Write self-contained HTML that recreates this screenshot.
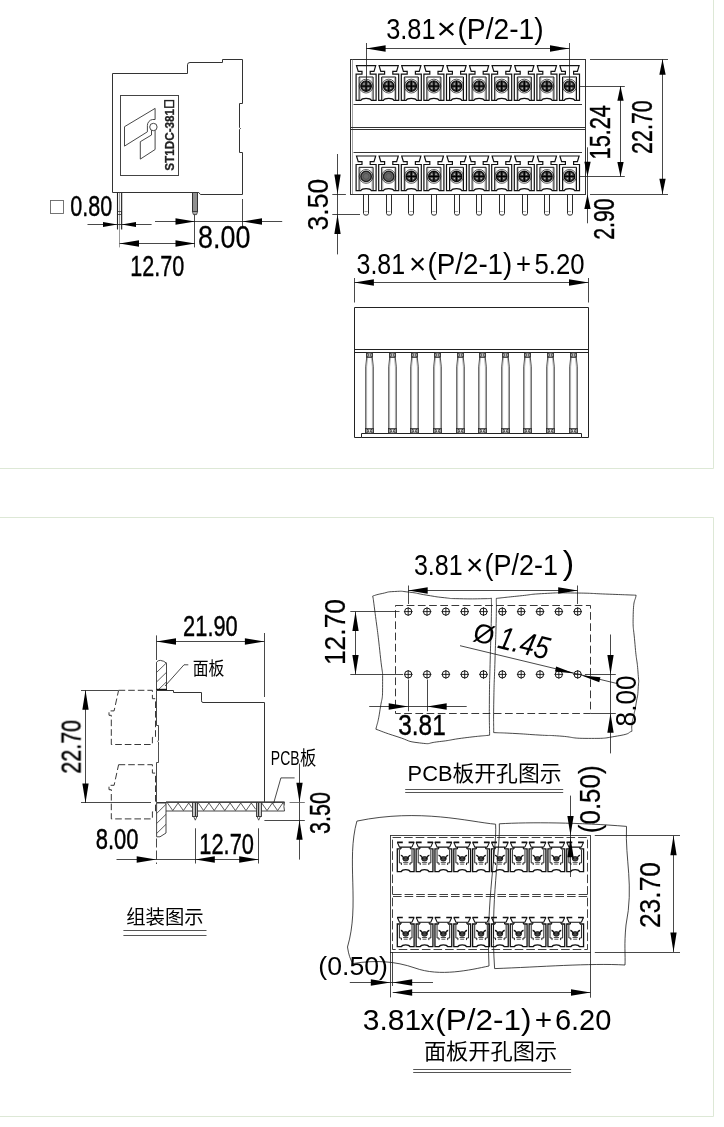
<!DOCTYPE html>
<html lang="zh">
<head>
<meta charset="utf-8">
<title>ST1DC-381 drawing</title>
<style>
html,body{margin:0;padding:0;background:#fff;}
body{width:724px;height:1127px;overflow:hidden;font-family:"Liberation Sans","Noto Sans CJK SC",sans-serif;}
svg{display:block;}
</style>
</head>
<body>
<svg width="724" height="1127" viewBox="0 0 724 1127">
<rect x="0" y="0" width="724" height="1127" fill="#ffffff"/>
<path d="M-2,-2 H713.5 V468.5 H-2" fill="none" stroke="#dde8d6" stroke-width="1"/>
<path d="M-2,1116.5 H713.5 V517.5 H-2" fill="none" stroke="#dde8d6" stroke-width="1"/>
<g style="filter:grayscale(1)">
<path d="M112.5,73.5 H187.5 V64.8 Q187.5,62.5 190,62.5 H222.5 V59.5 H242.5 V103.5 H239.5 V127.6 l1,0.9 l-1,0.9 V152.5 H242.5 V194.5 H200.4 L198.8,192.5 H112.5 Z" fill="none" stroke="#333" stroke-width="1"/>
<rect x="120.5" y="95.5" width="58" height="80" fill="none" stroke="#444" stroke-width="1"/>
<path d="M124.5,126.7 L155.1,108.4 V119.5 H152.6 A6,6 0 0 0 147.4,125.5 V131.8 L124.5,146.1 Z" fill="none" stroke="#333" stroke-width="0.9"/>
<path d="M151.5,130.2 V135 L140.3,141.7 V159.1 L155.1,149.5 V130.4" fill="none" stroke="#333" stroke-width="0.9"/>
<circle cx="153.4" cy="127" r="3.7" fill="none" stroke="#333" stroke-width="0.9"/>
<text font-family='"Liberation Sans", sans-serif' font-size="13.6" fill="#222" font-weight="bold" textLength="61.8" lengthAdjust="spacingAndGlyphs" transform="translate(173.9,170.7) rotate(-90)" stroke="#222" stroke-width="0.3">ST1DC-381</text>
<rect x="164.8" y="100.6" width="8.8" height="6.6" fill="none" stroke="#222" stroke-width="1.4"/>
<line x1="117.5" y1="192.6" x2="117.5" y2="229.5" stroke="#222" stroke-width="1.1"/>
<line x1="121.6" y1="192.6" x2="121.6" y2="229.5" stroke="#333" stroke-width="1.3"/>
<line x1="119.5" y1="192.6" x2="119.5" y2="247.4" stroke="#555" stroke-width="0.6"/>
<rect x="117.5" y="211.5" width="4" height="3" fill="none" stroke="#222" stroke-width="0.7"/>
<rect x="192.5" y="192.5" width="5" height="19" fill="#909090" stroke="#333" stroke-width="1"/>
<path d="M192.4,211.5 L193.4,214.6 H196.6 L197.6,211.5 Z" fill="#aaa" stroke="#333" stroke-width="0.8"/>
<line x1="87.5" y1="224.5" x2="151.6" y2="224.5" stroke="#1a1a1a" stroke-width="0.8"/>
<polygon points="117.4,224.5 103,227 103,222" fill="#000"/>
<polygon points="121.6,224.5 136,222 136,227" fill="#000"/>
<rect x="50.5" y="200.5" width="13" height="13" fill="none" stroke="#666" stroke-width="0.9"/>
<text font-family='"Liberation Sans", sans-serif' font-size="29.44" fill="#000" textLength="41.99" lengthAdjust="spacingAndGlyphs" x="70.16" y="216.1" stroke="#000" stroke-width="0.42">0.80</text>
<line x1="194.5" y1="214.6" x2="194.5" y2="247.4" stroke="#1a1a1a" stroke-width="0.8"/>
<line x1="119.5" y1="243.5" x2="195" y2="243.5" stroke="#1a1a1a" stroke-width="0.8"/>
<polygon points="119.5,243.5 139,240.35 139,246.65" fill="#000"/>
<polygon points="195,243.5 175.5,246.65 175.5,240.35" fill="#000"/>
<text font-family='"Liberation Sans", sans-serif' font-size="29.58" fill="#000" textLength="53.99" lengthAdjust="spacingAndGlyphs" x="130.26" y="275.7" stroke="#000" stroke-width="0.42">12.70</text>
<line x1="242.5" y1="199" x2="242.5" y2="227" stroke="#1a1a1a" stroke-width="0.8"/>
<line x1="155" y1="221.5" x2="282.2" y2="221.5" stroke="#1a1a1a" stroke-width="0.8"/>
<polygon points="195,221.5 175.5,224.65 175.5,218.35" fill="#000"/>
<polygon points="242.5,221.5 262,218.35 262,224.65" fill="#000"/>
<text font-family='"Liberation Sans", sans-serif' font-size="30.45" fill="#000" textLength="52.31" lengthAdjust="spacingAndGlyphs" x="198.04" y="247.5" stroke="#000" stroke-width="0.26">8.00</text>
<rect x="350.5" y="59.5" width="235" height="135" fill="none" stroke="#333" stroke-width="1"/>
<line x1="352.5" y1="59.3" x2="352.5" y2="194.2" stroke="#666" stroke-width="0.6"/>
<line x1="353.5" y1="104.5" x2="582" y2="104.5" stroke="#333" stroke-width="1"/>
<line x1="350.8" y1="127.5" x2="585.3" y2="127.5" stroke="#333" stroke-width="1"/>
<line x1="350.8" y1="129.5" x2="585.3" y2="129.5" stroke="#333" stroke-width="1"/>
<line x1="353.5" y1="152.5" x2="582" y2="152.5" stroke="#333" stroke-width="1"/>
<path d="M356.5,65.7 H375.7 L374,71.3 H370.2 V74.2 H376.1 V100.3 H371.3 Q370.5,98.3 366.1,98.3 Q361.7,98.3 360.9,100.3 H356.1 V74.2 H362 V71.3 H358.2 Z" fill="none" stroke="#111" stroke-width="1.2" stroke-linejoin="miter"/>
<path d="M359.1,100 V77 H373.1 V100" fill="none" stroke="#111" stroke-width="1"/>
<path d="M360.2,99.5 V78 M372,78 V99.5" fill="none" stroke="#777" stroke-width="0.5"/>
<circle cx="366.1" cy="86.1" r="6.9" fill="none" stroke="#111" stroke-width="0.7"/>
<circle cx="366.1" cy="86.1" r="5.2" fill="#484848" stroke="#111" stroke-width="1.4"/>
<path d="M360.9,86.1 H371.3 M366.1,80.9 V91.3" fill="none" stroke="#000" stroke-width="1.3"/>
<circle cx="364" cy="84" r="0.8" fill="#c8c8c8" stroke="none" stroke-width="0"/>
<circle cx="368.2" cy="84" r="0.8" fill="#c8c8c8" stroke="none" stroke-width="0"/>
<circle cx="364" cy="88.2" r="0.8" fill="#c8c8c8" stroke="none" stroke-width="0"/>
<circle cx="368.2" cy="88.2" r="0.8" fill="#c8c8c8" stroke="none" stroke-width="0"/>
<path d="M356.5,156 H375.7 L374,161.6 H370.2 V164.5 H376.1 V190.6 H371.3 Q370.5,188.6 366.1,188.6 Q361.7,188.6 360.9,190.6 H356.1 V164.5 H362 V161.6 H358.2 Z" fill="none" stroke="#111" stroke-width="1.2" stroke-linejoin="miter"/>
<path d="M359.1,190.3 V167.3 H373.1 V190.3" fill="none" stroke="#111" stroke-width="1"/>
<path d="M360.2,189.8 V168.3 M372,168.3 V189.8" fill="none" stroke="#777" stroke-width="0.5"/>
<circle cx="366.1" cy="176.4" r="6.9" fill="none" stroke="#111" stroke-width="0.7"/>
<circle cx="366.1" cy="176.4" r="5.2" fill="#6a6a6a" stroke="#222" stroke-width="1.5"/>
<circle cx="366.1" cy="176.4" r="3" fill="none" stroke="#444" stroke-width="0.6"/>
<path d="M363.5,194.2 V213.4 Q363.5,215.2 366,215.2 Q368.5,215.2 368.5,213.4 V194.2" fill="none" stroke="#2a2a2a" stroke-width="1"/>
<line x1="364.5" y1="211.5" x2="367.7" y2="211.5" stroke="#666" stroke-width="0.6"/>
<path d="M379.1,65.7 H398.3 L396.6,71.3 H392.8 V74.2 H398.7 V100.3 H393.9 Q393.1,98.3 388.7,98.3 Q384.3,98.3 383.5,100.3 H378.7 V74.2 H384.6 V71.3 H380.8 Z" fill="none" stroke="#111" stroke-width="1.2" stroke-linejoin="miter"/>
<path d="M381.7,100 V77 H395.7 V100" fill="none" stroke="#111" stroke-width="1"/>
<path d="M382.8,99.5 V78 M394.6,78 V99.5" fill="none" stroke="#777" stroke-width="0.5"/>
<circle cx="388.7" cy="86.1" r="6.9" fill="none" stroke="#111" stroke-width="0.7"/>
<circle cx="388.7" cy="86.1" r="5.2" fill="#484848" stroke="#111" stroke-width="1.4"/>
<path d="M383.5,86.1 H393.9 M388.7,80.9 V91.3" fill="none" stroke="#000" stroke-width="1.3"/>
<circle cx="386.6" cy="84" r="0.8" fill="#c8c8c8" stroke="none" stroke-width="0"/>
<circle cx="390.8" cy="84" r="0.8" fill="#c8c8c8" stroke="none" stroke-width="0"/>
<circle cx="386.6" cy="88.2" r="0.8" fill="#c8c8c8" stroke="none" stroke-width="0"/>
<circle cx="390.8" cy="88.2" r="0.8" fill="#c8c8c8" stroke="none" stroke-width="0"/>
<path d="M379.1,156 H398.3 L396.6,161.6 H392.8 V164.5 H398.7 V190.6 H393.9 Q393.1,188.6 388.7,188.6 Q384.3,188.6 383.5,190.6 H378.7 V164.5 H384.6 V161.6 H380.8 Z" fill="none" stroke="#111" stroke-width="1.2" stroke-linejoin="miter"/>
<path d="M381.7,190.3 V167.3 H395.7 V190.3" fill="none" stroke="#111" stroke-width="1"/>
<path d="M382.8,189.8 V168.3 M394.6,168.3 V189.8" fill="none" stroke="#777" stroke-width="0.5"/>
<circle cx="388.7" cy="176.4" r="6.9" fill="none" stroke="#111" stroke-width="0.7"/>
<circle cx="388.7" cy="176.4" r="5.2" fill="#6a6a6a" stroke="#222" stroke-width="1.5"/>
<circle cx="388.7" cy="176.4" r="3" fill="none" stroke="#444" stroke-width="0.6"/>
<path d="M386.5,194.2 V213.4 Q386.5,215.2 389,215.2 Q391.5,215.2 391.5,213.4 V194.2" fill="none" stroke="#2a2a2a" stroke-width="1"/>
<line x1="387.1" y1="211.5" x2="390.3" y2="211.5" stroke="#666" stroke-width="0.6"/>
<path d="M401.7,65.7 H420.9 L419.2,71.3 H415.4 V74.2 H421.3 V100.3 H416.5 Q415.7,98.3 411.3,98.3 Q406.9,98.3 406.1,100.3 H401.3 V74.2 H407.2 V71.3 H403.4 Z" fill="none" stroke="#111" stroke-width="1.2" stroke-linejoin="miter"/>
<path d="M404.3,100 V77 H418.3 V100" fill="none" stroke="#111" stroke-width="1"/>
<path d="M405.4,99.5 V78 M417.2,78 V99.5" fill="none" stroke="#777" stroke-width="0.5"/>
<circle cx="411.3" cy="86.1" r="6.9" fill="none" stroke="#111" stroke-width="0.7"/>
<circle cx="411.3" cy="86.1" r="5.2" fill="#484848" stroke="#111" stroke-width="1.4"/>
<path d="M406.1,86.1 H416.5 M411.3,80.9 V91.3" fill="none" stroke="#000" stroke-width="1.3"/>
<circle cx="409.2" cy="84" r="0.8" fill="#c8c8c8" stroke="none" stroke-width="0"/>
<circle cx="413.4" cy="84" r="0.8" fill="#c8c8c8" stroke="none" stroke-width="0"/>
<circle cx="409.2" cy="88.2" r="0.8" fill="#c8c8c8" stroke="none" stroke-width="0"/>
<circle cx="413.4" cy="88.2" r="0.8" fill="#c8c8c8" stroke="none" stroke-width="0"/>
<path d="M401.7,156 H420.9 L419.2,161.6 H415.4 V164.5 H421.3 V190.6 H416.5 Q415.7,188.6 411.3,188.6 Q406.9,188.6 406.1,190.6 H401.3 V164.5 H407.2 V161.6 H403.4 Z" fill="none" stroke="#111" stroke-width="1.2" stroke-linejoin="miter"/>
<path d="M404.3,190.3 V167.3 H418.3 V190.3" fill="none" stroke="#111" stroke-width="1"/>
<path d="M405.4,189.8 V168.3 M417.2,168.3 V189.8" fill="none" stroke="#777" stroke-width="0.5"/>
<circle cx="411.3" cy="176.4" r="6.9" fill="none" stroke="#111" stroke-width="0.7"/>
<circle cx="411.3" cy="176.4" r="5.2" fill="#484848" stroke="#111" stroke-width="1.4"/>
<path d="M406.1,176.4 H416.5 M411.3,171.2 V181.6" fill="none" stroke="#000" stroke-width="1.3"/>
<circle cx="409.2" cy="174.3" r="0.8" fill="#c8c8c8" stroke="none" stroke-width="0"/>
<circle cx="413.4" cy="174.3" r="0.8" fill="#c8c8c8" stroke="none" stroke-width="0"/>
<circle cx="409.2" cy="178.5" r="0.8" fill="#c8c8c8" stroke="none" stroke-width="0"/>
<circle cx="413.4" cy="178.5" r="0.8" fill="#c8c8c8" stroke="none" stroke-width="0"/>
<path d="M408.5,194.2 V213.4 Q408.5,215.2 411,215.2 Q413.5,215.2 413.5,213.4 V194.2" fill="none" stroke="#2a2a2a" stroke-width="1"/>
<line x1="409.7" y1="211.5" x2="412.9" y2="211.5" stroke="#666" stroke-width="0.6"/>
<path d="M424.3,65.7 H443.5 L441.8,71.3 H438 V74.2 H443.9 V100.3 H439.1 Q438.3,98.3 433.9,98.3 Q429.5,98.3 428.7,100.3 H423.9 V74.2 H429.8 V71.3 H426 Z" fill="none" stroke="#111" stroke-width="1.2" stroke-linejoin="miter"/>
<path d="M426.9,100 V77 H440.9 V100" fill="none" stroke="#111" stroke-width="1"/>
<path d="M428,99.5 V78 M439.8,78 V99.5" fill="none" stroke="#777" stroke-width="0.5"/>
<circle cx="433.9" cy="86.1" r="6.9" fill="none" stroke="#111" stroke-width="0.7"/>
<circle cx="433.9" cy="86.1" r="5.2" fill="#484848" stroke="#111" stroke-width="1.4"/>
<path d="M428.7,86.1 H439.1 M433.9,80.9 V91.3" fill="none" stroke="#000" stroke-width="1.3"/>
<circle cx="431.8" cy="84" r="0.8" fill="#c8c8c8" stroke="none" stroke-width="0"/>
<circle cx="436" cy="84" r="0.8" fill="#c8c8c8" stroke="none" stroke-width="0"/>
<circle cx="431.8" cy="88.2" r="0.8" fill="#c8c8c8" stroke="none" stroke-width="0"/>
<circle cx="436" cy="88.2" r="0.8" fill="#c8c8c8" stroke="none" stroke-width="0"/>
<path d="M424.3,156 H443.5 L441.8,161.6 H438 V164.5 H443.9 V190.6 H439.1 Q438.3,188.6 433.9,188.6 Q429.5,188.6 428.7,190.6 H423.9 V164.5 H429.8 V161.6 H426 Z" fill="none" stroke="#111" stroke-width="1.2" stroke-linejoin="miter"/>
<path d="M426.9,190.3 V167.3 H440.9 V190.3" fill="none" stroke="#111" stroke-width="1"/>
<path d="M428,189.8 V168.3 M439.8,168.3 V189.8" fill="none" stroke="#777" stroke-width="0.5"/>
<circle cx="433.9" cy="176.4" r="6.9" fill="none" stroke="#111" stroke-width="0.7"/>
<circle cx="433.9" cy="176.4" r="5.2" fill="#484848" stroke="#111" stroke-width="1.4"/>
<path d="M428.7,176.4 H439.1 M433.9,171.2 V181.6" fill="none" stroke="#000" stroke-width="1.3"/>
<circle cx="431.8" cy="174.3" r="0.8" fill="#c8c8c8" stroke="none" stroke-width="0"/>
<circle cx="436" cy="174.3" r="0.8" fill="#c8c8c8" stroke="none" stroke-width="0"/>
<circle cx="431.8" cy="178.5" r="0.8" fill="#c8c8c8" stroke="none" stroke-width="0"/>
<circle cx="436" cy="178.5" r="0.8" fill="#c8c8c8" stroke="none" stroke-width="0"/>
<path d="M431.5,194.2 V213.4 Q431.5,215.2 434,215.2 Q436.5,215.2 436.5,213.4 V194.2" fill="none" stroke="#2a2a2a" stroke-width="1"/>
<line x1="432.3" y1="211.5" x2="435.5" y2="211.5" stroke="#666" stroke-width="0.6"/>
<path d="M446.9,65.7 H466.1 L464.4,71.3 H460.6 V74.2 H466.5 V100.3 H461.7 Q460.9,98.3 456.5,98.3 Q452.1,98.3 451.3,100.3 H446.5 V74.2 H452.4 V71.3 H448.6 Z" fill="none" stroke="#111" stroke-width="1.2" stroke-linejoin="miter"/>
<path d="M449.5,100 V77 H463.5 V100" fill="none" stroke="#111" stroke-width="1"/>
<path d="M450.6,99.5 V78 M462.4,78 V99.5" fill="none" stroke="#777" stroke-width="0.5"/>
<circle cx="456.5" cy="86.1" r="6.9" fill="none" stroke="#111" stroke-width="0.7"/>
<circle cx="456.5" cy="86.1" r="5.2" fill="#484848" stroke="#111" stroke-width="1.4"/>
<path d="M451.3,86.1 H461.7 M456.5,80.9 V91.3" fill="none" stroke="#000" stroke-width="1.3"/>
<circle cx="454.4" cy="84" r="0.8" fill="#c8c8c8" stroke="none" stroke-width="0"/>
<circle cx="458.6" cy="84" r="0.8" fill="#c8c8c8" stroke="none" stroke-width="0"/>
<circle cx="454.4" cy="88.2" r="0.8" fill="#c8c8c8" stroke="none" stroke-width="0"/>
<circle cx="458.6" cy="88.2" r="0.8" fill="#c8c8c8" stroke="none" stroke-width="0"/>
<path d="M446.9,156 H466.1 L464.4,161.6 H460.6 V164.5 H466.5 V190.6 H461.7 Q460.9,188.6 456.5,188.6 Q452.1,188.6 451.3,190.6 H446.5 V164.5 H452.4 V161.6 H448.6 Z" fill="none" stroke="#111" stroke-width="1.2" stroke-linejoin="miter"/>
<path d="M449.5,190.3 V167.3 H463.5 V190.3" fill="none" stroke="#111" stroke-width="1"/>
<path d="M450.6,189.8 V168.3 M462.4,168.3 V189.8" fill="none" stroke="#777" stroke-width="0.5"/>
<circle cx="456.5" cy="176.4" r="6.9" fill="none" stroke="#111" stroke-width="0.7"/>
<circle cx="456.5" cy="176.4" r="5.2" fill="#484848" stroke="#111" stroke-width="1.4"/>
<path d="M451.3,176.4 H461.7 M456.5,171.2 V181.6" fill="none" stroke="#000" stroke-width="1.3"/>
<circle cx="454.4" cy="174.3" r="0.8" fill="#c8c8c8" stroke="none" stroke-width="0"/>
<circle cx="458.6" cy="174.3" r="0.8" fill="#c8c8c8" stroke="none" stroke-width="0"/>
<circle cx="454.4" cy="178.5" r="0.8" fill="#c8c8c8" stroke="none" stroke-width="0"/>
<circle cx="458.6" cy="178.5" r="0.8" fill="#c8c8c8" stroke="none" stroke-width="0"/>
<path d="M454.5,194.2 V213.4 Q454.5,215.2 457,215.2 Q459.5,215.2 459.5,213.4 V194.2" fill="none" stroke="#2a2a2a" stroke-width="1"/>
<line x1="454.9" y1="211.5" x2="458.1" y2="211.5" stroke="#666" stroke-width="0.6"/>
<path d="M469.5,65.7 H488.7 L487,71.3 H483.2 V74.2 H489.1 V100.3 H484.3 Q483.5,98.3 479.1,98.3 Q474.7,98.3 473.9,100.3 H469.1 V74.2 H475 V71.3 H471.2 Z" fill="none" stroke="#111" stroke-width="1.2" stroke-linejoin="miter"/>
<path d="M472.1,100 V77 H486.1 V100" fill="none" stroke="#111" stroke-width="1"/>
<path d="M473.2,99.5 V78 M485,78 V99.5" fill="none" stroke="#777" stroke-width="0.5"/>
<circle cx="479.1" cy="86.1" r="6.9" fill="none" stroke="#111" stroke-width="0.7"/>
<circle cx="479.1" cy="86.1" r="5.2" fill="#484848" stroke="#111" stroke-width="1.4"/>
<path d="M473.9,86.1 H484.3 M479.1,80.9 V91.3" fill="none" stroke="#000" stroke-width="1.3"/>
<circle cx="477" cy="84" r="0.8" fill="#c8c8c8" stroke="none" stroke-width="0"/>
<circle cx="481.2" cy="84" r="0.8" fill="#c8c8c8" stroke="none" stroke-width="0"/>
<circle cx="477" cy="88.2" r="0.8" fill="#c8c8c8" stroke="none" stroke-width="0"/>
<circle cx="481.2" cy="88.2" r="0.8" fill="#c8c8c8" stroke="none" stroke-width="0"/>
<path d="M469.5,156 H488.7 L487,161.6 H483.2 V164.5 H489.1 V190.6 H484.3 Q483.5,188.6 479.1,188.6 Q474.7,188.6 473.9,190.6 H469.1 V164.5 H475 V161.6 H471.2 Z" fill="none" stroke="#111" stroke-width="1.2" stroke-linejoin="miter"/>
<path d="M472.1,190.3 V167.3 H486.1 V190.3" fill="none" stroke="#111" stroke-width="1"/>
<path d="M473.2,189.8 V168.3 M485,168.3 V189.8" fill="none" stroke="#777" stroke-width="0.5"/>
<circle cx="479.1" cy="176.4" r="6.9" fill="none" stroke="#111" stroke-width="0.7"/>
<circle cx="479.1" cy="176.4" r="5.2" fill="#484848" stroke="#111" stroke-width="1.4"/>
<path d="M473.9,176.4 H484.3 M479.1,171.2 V181.6" fill="none" stroke="#000" stroke-width="1.3"/>
<circle cx="477" cy="174.3" r="0.8" fill="#c8c8c8" stroke="none" stroke-width="0"/>
<circle cx="481.2" cy="174.3" r="0.8" fill="#c8c8c8" stroke="none" stroke-width="0"/>
<circle cx="477" cy="178.5" r="0.8" fill="#c8c8c8" stroke="none" stroke-width="0"/>
<circle cx="481.2" cy="178.5" r="0.8" fill="#c8c8c8" stroke="none" stroke-width="0"/>
<path d="M476.5,194.2 V213.4 Q476.5,215.2 479,215.2 Q481.5,215.2 481.5,213.4 V194.2" fill="none" stroke="#2a2a2a" stroke-width="1"/>
<line x1="477.5" y1="211.5" x2="480.7" y2="211.5" stroke="#666" stroke-width="0.6"/>
<path d="M492.1,65.7 H511.3 L509.6,71.3 H505.8 V74.2 H511.7 V100.3 H506.9 Q506.1,98.3 501.7,98.3 Q497.3,98.3 496.5,100.3 H491.7 V74.2 H497.6 V71.3 H493.8 Z" fill="none" stroke="#111" stroke-width="1.2" stroke-linejoin="miter"/>
<path d="M494.7,100 V77 H508.7 V100" fill="none" stroke="#111" stroke-width="1"/>
<path d="M495.8,99.5 V78 M507.6,78 V99.5" fill="none" stroke="#777" stroke-width="0.5"/>
<circle cx="501.7" cy="86.1" r="6.9" fill="none" stroke="#111" stroke-width="0.7"/>
<circle cx="501.7" cy="86.1" r="5.2" fill="#484848" stroke="#111" stroke-width="1.4"/>
<path d="M496.5,86.1 H506.9 M501.7,80.9 V91.3" fill="none" stroke="#000" stroke-width="1.3"/>
<circle cx="499.6" cy="84" r="0.8" fill="#c8c8c8" stroke="none" stroke-width="0"/>
<circle cx="503.8" cy="84" r="0.8" fill="#c8c8c8" stroke="none" stroke-width="0"/>
<circle cx="499.6" cy="88.2" r="0.8" fill="#c8c8c8" stroke="none" stroke-width="0"/>
<circle cx="503.8" cy="88.2" r="0.8" fill="#c8c8c8" stroke="none" stroke-width="0"/>
<path d="M492.1,156 H511.3 L509.6,161.6 H505.8 V164.5 H511.7 V190.6 H506.9 Q506.1,188.6 501.7,188.6 Q497.3,188.6 496.5,190.6 H491.7 V164.5 H497.6 V161.6 H493.8 Z" fill="none" stroke="#111" stroke-width="1.2" stroke-linejoin="miter"/>
<path d="M494.7,190.3 V167.3 H508.7 V190.3" fill="none" stroke="#111" stroke-width="1"/>
<path d="M495.8,189.8 V168.3 M507.6,168.3 V189.8" fill="none" stroke="#777" stroke-width="0.5"/>
<circle cx="501.7" cy="176.4" r="6.9" fill="none" stroke="#111" stroke-width="0.7"/>
<circle cx="501.7" cy="176.4" r="5.2" fill="#484848" stroke="#111" stroke-width="1.4"/>
<path d="M496.5,176.4 H506.9 M501.7,171.2 V181.6" fill="none" stroke="#000" stroke-width="1.3"/>
<circle cx="499.6" cy="174.3" r="0.8" fill="#c8c8c8" stroke="none" stroke-width="0"/>
<circle cx="503.8" cy="174.3" r="0.8" fill="#c8c8c8" stroke="none" stroke-width="0"/>
<circle cx="499.6" cy="178.5" r="0.8" fill="#c8c8c8" stroke="none" stroke-width="0"/>
<circle cx="503.8" cy="178.5" r="0.8" fill="#c8c8c8" stroke="none" stroke-width="0"/>
<path d="M499.5,194.2 V213.4 Q499.5,215.2 502,215.2 Q504.5,215.2 504.5,213.4 V194.2" fill="none" stroke="#2a2a2a" stroke-width="1"/>
<line x1="500.1" y1="211.5" x2="503.3" y2="211.5" stroke="#666" stroke-width="0.6"/>
<path d="M514.7,65.7 H533.9 L532.2,71.3 H528.4 V74.2 H534.3 V100.3 H529.5 Q528.7,98.3 524.3,98.3 Q519.9,98.3 519.1,100.3 H514.3 V74.2 H520.2 V71.3 H516.4 Z" fill="none" stroke="#111" stroke-width="1.2" stroke-linejoin="miter"/>
<path d="M517.3,100 V77 H531.3 V100" fill="none" stroke="#111" stroke-width="1"/>
<path d="M518.4,99.5 V78 M530.2,78 V99.5" fill="none" stroke="#777" stroke-width="0.5"/>
<circle cx="524.3" cy="86.1" r="6.9" fill="none" stroke="#111" stroke-width="0.7"/>
<circle cx="524.3" cy="86.1" r="5.2" fill="#484848" stroke="#111" stroke-width="1.4"/>
<path d="M519.1,86.1 H529.5 M524.3,80.9 V91.3" fill="none" stroke="#000" stroke-width="1.3"/>
<circle cx="522.2" cy="84" r="0.8" fill="#c8c8c8" stroke="none" stroke-width="0"/>
<circle cx="526.4" cy="84" r="0.8" fill="#c8c8c8" stroke="none" stroke-width="0"/>
<circle cx="522.2" cy="88.2" r="0.8" fill="#c8c8c8" stroke="none" stroke-width="0"/>
<circle cx="526.4" cy="88.2" r="0.8" fill="#c8c8c8" stroke="none" stroke-width="0"/>
<path d="M514.7,156 H533.9 L532.2,161.6 H528.4 V164.5 H534.3 V190.6 H529.5 Q528.7,188.6 524.3,188.6 Q519.9,188.6 519.1,190.6 H514.3 V164.5 H520.2 V161.6 H516.4 Z" fill="none" stroke="#111" stroke-width="1.2" stroke-linejoin="miter"/>
<path d="M517.3,190.3 V167.3 H531.3 V190.3" fill="none" stroke="#111" stroke-width="1"/>
<path d="M518.4,189.8 V168.3 M530.2,168.3 V189.8" fill="none" stroke="#777" stroke-width="0.5"/>
<circle cx="524.3" cy="176.4" r="6.9" fill="none" stroke="#111" stroke-width="0.7"/>
<circle cx="524.3" cy="176.4" r="5.2" fill="#484848" stroke="#111" stroke-width="1.4"/>
<path d="M519.1,176.4 H529.5 M524.3,171.2 V181.6" fill="none" stroke="#000" stroke-width="1.3"/>
<circle cx="522.2" cy="174.3" r="0.8" fill="#c8c8c8" stroke="none" stroke-width="0"/>
<circle cx="526.4" cy="174.3" r="0.8" fill="#c8c8c8" stroke="none" stroke-width="0"/>
<circle cx="522.2" cy="178.5" r="0.8" fill="#c8c8c8" stroke="none" stroke-width="0"/>
<circle cx="526.4" cy="178.5" r="0.8" fill="#c8c8c8" stroke="none" stroke-width="0"/>
<path d="M522.5,194.2 V213.4 Q522.5,215.2 525,215.2 Q527.5,215.2 527.5,213.4 V194.2" fill="none" stroke="#2a2a2a" stroke-width="1"/>
<line x1="522.7" y1="211.5" x2="525.9" y2="211.5" stroke="#666" stroke-width="0.6"/>
<path d="M537.3,65.7 H556.5 L554.8,71.3 H551 V74.2 H556.9 V100.3 H552.1 Q551.3,98.3 546.9,98.3 Q542.5,98.3 541.7,100.3 H536.9 V74.2 H542.8 V71.3 H539 Z" fill="none" stroke="#111" stroke-width="1.2" stroke-linejoin="miter"/>
<path d="M539.9,100 V77 H553.9 V100" fill="none" stroke="#111" stroke-width="1"/>
<path d="M541,99.5 V78 M552.8,78 V99.5" fill="none" stroke="#777" stroke-width="0.5"/>
<circle cx="546.9" cy="86.1" r="6.9" fill="none" stroke="#111" stroke-width="0.7"/>
<circle cx="546.9" cy="86.1" r="5.2" fill="#484848" stroke="#111" stroke-width="1.4"/>
<path d="M541.7,86.1 H552.1 M546.9,80.9 V91.3" fill="none" stroke="#000" stroke-width="1.3"/>
<circle cx="544.8" cy="84" r="0.8" fill="#c8c8c8" stroke="none" stroke-width="0"/>
<circle cx="549" cy="84" r="0.8" fill="#c8c8c8" stroke="none" stroke-width="0"/>
<circle cx="544.8" cy="88.2" r="0.8" fill="#c8c8c8" stroke="none" stroke-width="0"/>
<circle cx="549" cy="88.2" r="0.8" fill="#c8c8c8" stroke="none" stroke-width="0"/>
<path d="M537.3,156 H556.5 L554.8,161.6 H551 V164.5 H556.9 V190.6 H552.1 Q551.3,188.6 546.9,188.6 Q542.5,188.6 541.7,190.6 H536.9 V164.5 H542.8 V161.6 H539 Z" fill="none" stroke="#111" stroke-width="1.2" stroke-linejoin="miter"/>
<path d="M539.9,190.3 V167.3 H553.9 V190.3" fill="none" stroke="#111" stroke-width="1"/>
<path d="M541,189.8 V168.3 M552.8,168.3 V189.8" fill="none" stroke="#777" stroke-width="0.5"/>
<circle cx="546.9" cy="176.4" r="6.9" fill="none" stroke="#111" stroke-width="0.7"/>
<circle cx="546.9" cy="176.4" r="5.2" fill="#484848" stroke="#111" stroke-width="1.4"/>
<path d="M541.7,176.4 H552.1 M546.9,171.2 V181.6" fill="none" stroke="#000" stroke-width="1.3"/>
<circle cx="544.8" cy="174.3" r="0.8" fill="#c8c8c8" stroke="none" stroke-width="0"/>
<circle cx="549" cy="174.3" r="0.8" fill="#c8c8c8" stroke="none" stroke-width="0"/>
<circle cx="544.8" cy="178.5" r="0.8" fill="#c8c8c8" stroke="none" stroke-width="0"/>
<circle cx="549" cy="178.5" r="0.8" fill="#c8c8c8" stroke="none" stroke-width="0"/>
<path d="M544.5,194.2 V213.4 Q544.5,215.2 547,215.2 Q549.5,215.2 549.5,213.4 V194.2" fill="none" stroke="#2a2a2a" stroke-width="1"/>
<line x1="545.3" y1="211.5" x2="548.5" y2="211.5" stroke="#666" stroke-width="0.6"/>
<path d="M559.9,65.7 H579.1 L577.4,71.3 H573.6 V74.2 H579.5 V100.3 H574.7 Q573.9,98.3 569.5,98.3 Q565.1,98.3 564.3,100.3 H559.5 V74.2 H565.4 V71.3 H561.6 Z" fill="none" stroke="#111" stroke-width="1.2" stroke-linejoin="miter"/>
<path d="M562.5,100 V77 H576.5 V100" fill="none" stroke="#111" stroke-width="1"/>
<path d="M563.6,99.5 V78 M575.4,78 V99.5" fill="none" stroke="#777" stroke-width="0.5"/>
<circle cx="569.5" cy="86.1" r="6.9" fill="none" stroke="#111" stroke-width="0.7"/>
<circle cx="569.5" cy="86.1" r="5.2" fill="#484848" stroke="#111" stroke-width="1.4"/>
<path d="M564.3,86.1 H574.7 M569.5,80.9 V91.3" fill="none" stroke="#000" stroke-width="1.3"/>
<circle cx="567.4" cy="84" r="0.8" fill="#c8c8c8" stroke="none" stroke-width="0"/>
<circle cx="571.6" cy="84" r="0.8" fill="#c8c8c8" stroke="none" stroke-width="0"/>
<circle cx="567.4" cy="88.2" r="0.8" fill="#c8c8c8" stroke="none" stroke-width="0"/>
<circle cx="571.6" cy="88.2" r="0.8" fill="#c8c8c8" stroke="none" stroke-width="0"/>
<path d="M559.9,156 H579.1 L577.4,161.6 H573.6 V164.5 H579.5 V190.6 H574.7 Q573.9,188.6 569.5,188.6 Q565.1,188.6 564.3,190.6 H559.5 V164.5 H565.4 V161.6 H561.6 Z" fill="none" stroke="#111" stroke-width="1.2" stroke-linejoin="miter"/>
<path d="M562.5,190.3 V167.3 H576.5 V190.3" fill="none" stroke="#111" stroke-width="1"/>
<path d="M563.6,189.8 V168.3 M575.4,168.3 V189.8" fill="none" stroke="#777" stroke-width="0.5"/>
<circle cx="569.5" cy="176.4" r="6.9" fill="none" stroke="#111" stroke-width="0.7"/>
<circle cx="569.5" cy="176.4" r="5.2" fill="#484848" stroke="#111" stroke-width="1.4"/>
<path d="M564.3,176.4 H574.7 M569.5,171.2 V181.6" fill="none" stroke="#000" stroke-width="1.3"/>
<circle cx="567.4" cy="174.3" r="0.8" fill="#c8c8c8" stroke="none" stroke-width="0"/>
<circle cx="571.6" cy="174.3" r="0.8" fill="#c8c8c8" stroke="none" stroke-width="0"/>
<circle cx="567.4" cy="178.5" r="0.8" fill="#c8c8c8" stroke="none" stroke-width="0"/>
<circle cx="571.6" cy="178.5" r="0.8" fill="#c8c8c8" stroke="none" stroke-width="0"/>
<path d="M567.5,194.2 V213.4 Q567.5,215.2 570,215.2 Q572.5,215.2 572.5,213.4 V194.2" fill="none" stroke="#2a2a2a" stroke-width="1"/>
<line x1="567.9" y1="211.5" x2="571.1" y2="211.5" stroke="#666" stroke-width="0.6"/>
<line x1="366.5" y1="43" x2="366.5" y2="86" stroke="#1a1a1a" stroke-width="0.8"/>
<line x1="569.5" y1="43" x2="569.5" y2="86" stroke="#1a1a1a" stroke-width="0.8"/>
<line x1="366.1" y1="48.5" x2="569.5" y2="48.5" stroke="#1a1a1a" stroke-width="0.8"/>
<polygon points="366.1,48.5 385.6,45.35 385.6,51.65" fill="#000"/>
<polygon points="569.5,48.5 550,51.65 550,45.35" fill="#000"/>
<text font-family='"Liberation Sans", sans-serif' font-size="28.86" fill="#000" y="39"><tspan x="386.24" textLength="49.31" lengthAdjust="spacingAndGlyphs">3.81</tspan><tspan x="436.41" textLength="19.95" lengthAdjust="spacingAndGlyphs">×</tspan><tspan x="457.45" textLength="86.2" lengthAdjust="spacingAndGlyphs">(P/2-1)</tspan></text>
<line x1="579.8" y1="86.5" x2="624.8" y2="86.5" stroke="#1a1a1a" stroke-width="0.8"/>
<line x1="579.8" y1="176.5" x2="624.8" y2="176.5" stroke="#1a1a1a" stroke-width="0.8"/>
<line x1="620.5" y1="86.2" x2="620.5" y2="176.5" stroke="#1a1a1a" stroke-width="0.8"/>
<polygon points="620.5,86.2 623.65,100.7 617.35,100.7" fill="#000"/>
<polygon points="620.5,176.5 617.35,162 623.65,162" fill="#000"/>
<text font-family='"Liberation Sans", sans-serif' font-size="28.86" fill="#000" textLength="54.39" lengthAdjust="spacingAndGlyphs" transform="translate(610.2,159.45) rotate(-90)" stroke="#000" stroke-width="0.42">15.24</text>
<line x1="590" y1="59.5" x2="668" y2="59.5" stroke="#1a1a1a" stroke-width="0.8"/>
<line x1="590" y1="194.5" x2="668" y2="194.5" stroke="#1a1a1a" stroke-width="0.8"/>
<line x1="662.5" y1="59.3" x2="662.5" y2="194.3" stroke="#1a1a1a" stroke-width="0.8"/>
<polygon points="662.5,59.3 665.65,74.8 659.35,74.8" fill="#000"/>
<polygon points="662.5,194.3 659.35,178.8 665.65,178.8" fill="#000"/>
<text font-family='"Liberation Sans", sans-serif' font-size="28.86" fill="#000" textLength="53.82" lengthAdjust="spacingAndGlyphs" transform="translate(652.4,153.98) rotate(-90)" stroke="#000" stroke-width="0.42">22.70</text>
<line x1="587.5" y1="147.3" x2="587.5" y2="223.3" stroke="#1a1a1a" stroke-width="0.8"/>
<polygon points="587.5,176.5 584.35,161.8 590.65,161.8" fill="#000"/>
<polygon points="587.5,194.3 590.65,209 584.35,209" fill="#000"/>
<text font-family='"Liberation Sans", sans-serif' font-size="29" fill="#000" textLength="41.5" lengthAdjust="spacingAndGlyphs" transform="translate(614.4,239.87) rotate(-90)" stroke="#000" stroke-width="0.42">2.90</text>
<line x1="337.5" y1="154" x2="337.5" y2="254.4" stroke="#1a1a1a" stroke-width="0.8"/>
<polygon points="337.5,194.1 334.35,174.6 340.65,174.6" fill="#000"/>
<polygon points="337.5,214.6 340.65,234.1 334.35,234.1" fill="#000"/>
<line x1="332.3" y1="194.5" x2="345.9" y2="194.5" stroke="#1a1a1a" stroke-width="0.8"/>
<line x1="332.3" y1="214.5" x2="360" y2="214.5" stroke="#1a1a1a" stroke-width="0.8"/>
<text font-family='"Liberation Sans", sans-serif' font-size="28.86" fill="#000" textLength="51.55" lengthAdjust="spacingAndGlyphs" transform="translate(327.6,230.41) rotate(-90)" stroke="#000" stroke-width="0.18">3.50</text>
<path d="M354.5,307.5 H588.5 V437.5 H581.5 V433.5 H361.5 V437.5 H354.5 Z" fill="none" stroke="#222" stroke-width="1"/>
<line x1="361.5" y1="437.5" x2="581.5" y2="437.5" stroke="#222" stroke-width="1"/>
<line x1="354.5" y1="349.5" x2="588.5" y2="349.5" stroke="#222" stroke-width="1"/>
<line x1="354.5" y1="352.5" x2="588.5" y2="352.5" stroke="#222" stroke-width="1"/>
<path d="M366.7,352.5 V357.4 L365.7,366.8 V433" fill="none" stroke="#222" stroke-width="0.8"/>
<path d="M367.6,358 L366.6,367 V428.3" fill="none" stroke="#777" stroke-width="0.5"/>
<path d="M372.3,352.5 V357.4 L373.3,366.8 V433" fill="none" stroke="#222" stroke-width="0.8"/>
<path d="M371.4,358 L372.4,367 V428.3" fill="none" stroke="#777" stroke-width="0.5"/>
<rect x="366.5" y="352.5" width="6" height="5" fill="#999" stroke="#222" stroke-width="0.7"/>
<path d="M367.1,353 L371.9,357 M371.9,353 L367.1,357" fill="none" stroke="#222" stroke-width="0.8"/>
<circle cx="369.5" cy="355" r="0.8" fill="#fff" stroke="none" stroke-width="0"/>
<rect x="365.5" y="428.5" width="8" height="5" fill="#999" stroke="#222" stroke-width="0.7"/>
<path d="M366.3,428.8 L372.7,432.8 M372.7,428.8 L366.3,432.8" fill="none" stroke="#222" stroke-width="0.8"/>
<circle cx="369.5" cy="430.8" r="0.9" fill="#fff" stroke="none" stroke-width="0"/>
<path d="M389.7,352.5 V357.4 L388.7,366.8 V433" fill="none" stroke="#222" stroke-width="0.8"/>
<path d="M390.6,358 L389.6,367 V428.3" fill="none" stroke="#777" stroke-width="0.5"/>
<path d="M395.3,352.5 V357.4 L396.3,366.8 V433" fill="none" stroke="#222" stroke-width="0.8"/>
<path d="M394.4,358 L395.4,367 V428.3" fill="none" stroke="#777" stroke-width="0.5"/>
<rect x="389.5" y="352.5" width="6" height="5" fill="#999" stroke="#222" stroke-width="0.7"/>
<path d="M390.1,353 L394.9,357 M394.9,353 L390.1,357" fill="none" stroke="#222" stroke-width="0.8"/>
<circle cx="392.5" cy="355" r="0.8" fill="#fff" stroke="none" stroke-width="0"/>
<rect x="388.5" y="428.5" width="8" height="5" fill="#999" stroke="#222" stroke-width="0.7"/>
<path d="M389.3,428.8 L395.7,432.8 M395.7,428.8 L389.3,432.8" fill="none" stroke="#222" stroke-width="0.8"/>
<circle cx="392.5" cy="430.8" r="0.9" fill="#fff" stroke="none" stroke-width="0"/>
<path d="M411.7,352.5 V357.4 L410.7,366.8 V433" fill="none" stroke="#222" stroke-width="0.8"/>
<path d="M412.6,358 L411.6,367 V428.3" fill="none" stroke="#777" stroke-width="0.5"/>
<path d="M417.3,352.5 V357.4 L418.3,366.8 V433" fill="none" stroke="#222" stroke-width="0.8"/>
<path d="M416.4,358 L417.4,367 V428.3" fill="none" stroke="#777" stroke-width="0.5"/>
<rect x="411.5" y="352.5" width="6" height="5" fill="#999" stroke="#222" stroke-width="0.7"/>
<path d="M412.1,353 L416.9,357 M416.9,353 L412.1,357" fill="none" stroke="#222" stroke-width="0.8"/>
<circle cx="414.5" cy="355" r="0.8" fill="#fff" stroke="none" stroke-width="0"/>
<rect x="410.5" y="428.5" width="8" height="5" fill="#999" stroke="#222" stroke-width="0.7"/>
<path d="M411.3,428.8 L417.7,432.8 M417.7,428.8 L411.3,432.8" fill="none" stroke="#222" stroke-width="0.8"/>
<circle cx="414.5" cy="430.8" r="0.9" fill="#fff" stroke="none" stroke-width="0"/>
<path d="M434.7,352.5 V357.4 L433.7,366.8 V433" fill="none" stroke="#222" stroke-width="0.8"/>
<path d="M435.6,358 L434.6,367 V428.3" fill="none" stroke="#777" stroke-width="0.5"/>
<path d="M440.3,352.5 V357.4 L441.3,366.8 V433" fill="none" stroke="#222" stroke-width="0.8"/>
<path d="M439.4,358 L440.4,367 V428.3" fill="none" stroke="#777" stroke-width="0.5"/>
<rect x="434.5" y="352.5" width="6" height="5" fill="#999" stroke="#222" stroke-width="0.7"/>
<path d="M435.1,353 L439.9,357 M439.9,353 L435.1,357" fill="none" stroke="#222" stroke-width="0.8"/>
<circle cx="437.5" cy="355" r="0.8" fill="#fff" stroke="none" stroke-width="0"/>
<rect x="433.5" y="428.5" width="8" height="5" fill="#999" stroke="#222" stroke-width="0.7"/>
<path d="M434.3,428.8 L440.7,432.8 M440.7,428.8 L434.3,432.8" fill="none" stroke="#222" stroke-width="0.8"/>
<circle cx="437.5" cy="430.8" r="0.9" fill="#fff" stroke="none" stroke-width="0"/>
<path d="M457.7,352.5 V357.4 L456.7,366.8 V433" fill="none" stroke="#222" stroke-width="0.8"/>
<path d="M458.6,358 L457.6,367 V428.3" fill="none" stroke="#777" stroke-width="0.5"/>
<path d="M463.3,352.5 V357.4 L464.3,366.8 V433" fill="none" stroke="#222" stroke-width="0.8"/>
<path d="M462.4,358 L463.4,367 V428.3" fill="none" stroke="#777" stroke-width="0.5"/>
<rect x="457.5" y="352.5" width="6" height="5" fill="#999" stroke="#222" stroke-width="0.7"/>
<path d="M458.1,353 L462.9,357 M462.9,353 L458.1,357" fill="none" stroke="#222" stroke-width="0.8"/>
<circle cx="460.5" cy="355" r="0.8" fill="#fff" stroke="none" stroke-width="0"/>
<rect x="456.5" y="428.5" width="8" height="5" fill="#999" stroke="#222" stroke-width="0.7"/>
<path d="M457.3,428.8 L463.7,432.8 M463.7,428.8 L457.3,432.8" fill="none" stroke="#222" stroke-width="0.8"/>
<circle cx="460.5" cy="430.8" r="0.9" fill="#fff" stroke="none" stroke-width="0"/>
<path d="M479.7,352.5 V357.4 L478.7,366.8 V433" fill="none" stroke="#222" stroke-width="0.8"/>
<path d="M480.6,358 L479.6,367 V428.3" fill="none" stroke="#777" stroke-width="0.5"/>
<path d="M485.3,352.5 V357.4 L486.3,366.8 V433" fill="none" stroke="#222" stroke-width="0.8"/>
<path d="M484.4,358 L485.4,367 V428.3" fill="none" stroke="#777" stroke-width="0.5"/>
<rect x="479.5" y="352.5" width="6" height="5" fill="#999" stroke="#222" stroke-width="0.7"/>
<path d="M480.1,353 L484.9,357 M484.9,353 L480.1,357" fill="none" stroke="#222" stroke-width="0.8"/>
<circle cx="482.5" cy="355" r="0.8" fill="#fff" stroke="none" stroke-width="0"/>
<rect x="478.5" y="428.5" width="8" height="5" fill="#999" stroke="#222" stroke-width="0.7"/>
<path d="M479.3,428.8 L485.7,432.8 M485.7,428.8 L479.3,432.8" fill="none" stroke="#222" stroke-width="0.8"/>
<circle cx="482.5" cy="430.8" r="0.9" fill="#fff" stroke="none" stroke-width="0"/>
<path d="M502.7,352.5 V357.4 L501.7,366.8 V433" fill="none" stroke="#222" stroke-width="0.8"/>
<path d="M503.6,358 L502.6,367 V428.3" fill="none" stroke="#777" stroke-width="0.5"/>
<path d="M508.3,352.5 V357.4 L509.3,366.8 V433" fill="none" stroke="#222" stroke-width="0.8"/>
<path d="M507.4,358 L508.4,367 V428.3" fill="none" stroke="#777" stroke-width="0.5"/>
<rect x="502.5" y="352.5" width="6" height="5" fill="#999" stroke="#222" stroke-width="0.7"/>
<path d="M503.1,353 L507.9,357 M507.9,353 L503.1,357" fill="none" stroke="#222" stroke-width="0.8"/>
<circle cx="505.5" cy="355" r="0.8" fill="#fff" stroke="none" stroke-width="0"/>
<rect x="501.5" y="428.5" width="8" height="5" fill="#999" stroke="#222" stroke-width="0.7"/>
<path d="M502.3,428.8 L508.7,432.8 M508.7,428.8 L502.3,432.8" fill="none" stroke="#222" stroke-width="0.8"/>
<circle cx="505.5" cy="430.8" r="0.9" fill="#fff" stroke="none" stroke-width="0"/>
<path d="M524.7,352.5 V357.4 L523.7,366.8 V433" fill="none" stroke="#222" stroke-width="0.8"/>
<path d="M525.6,358 L524.6,367 V428.3" fill="none" stroke="#777" stroke-width="0.5"/>
<path d="M530.3,352.5 V357.4 L531.3,366.8 V433" fill="none" stroke="#222" stroke-width="0.8"/>
<path d="M529.4,358 L530.4,367 V428.3" fill="none" stroke="#777" stroke-width="0.5"/>
<rect x="524.5" y="352.5" width="6" height="5" fill="#999" stroke="#222" stroke-width="0.7"/>
<path d="M525.1,353 L529.9,357 M529.9,353 L525.1,357" fill="none" stroke="#222" stroke-width="0.8"/>
<circle cx="527.5" cy="355" r="0.8" fill="#fff" stroke="none" stroke-width="0"/>
<rect x="523.5" y="428.5" width="8" height="5" fill="#999" stroke="#222" stroke-width="0.7"/>
<path d="M524.3,428.8 L530.7,432.8 M530.7,428.8 L524.3,432.8" fill="none" stroke="#222" stroke-width="0.8"/>
<circle cx="527.5" cy="430.8" r="0.9" fill="#fff" stroke="none" stroke-width="0"/>
<path d="M547.7,352.5 V357.4 L546.7,366.8 V433" fill="none" stroke="#222" stroke-width="0.8"/>
<path d="M548.6,358 L547.6,367 V428.3" fill="none" stroke="#777" stroke-width="0.5"/>
<path d="M553.3,352.5 V357.4 L554.3,366.8 V433" fill="none" stroke="#222" stroke-width="0.8"/>
<path d="M552.4,358 L553.4,367 V428.3" fill="none" stroke="#777" stroke-width="0.5"/>
<rect x="547.5" y="352.5" width="6" height="5" fill="#999" stroke="#222" stroke-width="0.7"/>
<path d="M548.1,353 L552.9,357 M552.9,353 L548.1,357" fill="none" stroke="#222" stroke-width="0.8"/>
<circle cx="550.5" cy="355" r="0.8" fill="#fff" stroke="none" stroke-width="0"/>
<rect x="546.5" y="428.5" width="8" height="5" fill="#999" stroke="#222" stroke-width="0.7"/>
<path d="M547.3,428.8 L553.7,432.8 M553.7,428.8 L547.3,432.8" fill="none" stroke="#222" stroke-width="0.8"/>
<circle cx="550.5" cy="430.8" r="0.9" fill="#fff" stroke="none" stroke-width="0"/>
<path d="M570.7,352.5 V357.4 L569.7,366.8 V433" fill="none" stroke="#222" stroke-width="0.8"/>
<path d="M571.6,358 L570.6,367 V428.3" fill="none" stroke="#777" stroke-width="0.5"/>
<path d="M576.3,352.5 V357.4 L577.3,366.8 V433" fill="none" stroke="#222" stroke-width="0.8"/>
<path d="M575.4,358 L576.4,367 V428.3" fill="none" stroke="#777" stroke-width="0.5"/>
<rect x="570.5" y="352.5" width="6" height="5" fill="#999" stroke="#222" stroke-width="0.7"/>
<path d="M571.1,353 L575.9,357 M575.9,353 L571.1,357" fill="none" stroke="#222" stroke-width="0.8"/>
<circle cx="573.5" cy="355" r="0.8" fill="#fff" stroke="none" stroke-width="0"/>
<rect x="569.5" y="428.5" width="8" height="5" fill="#999" stroke="#222" stroke-width="0.7"/>
<path d="M570.3,428.8 L576.7,432.8 M576.7,428.8 L570.3,432.8" fill="none" stroke="#222" stroke-width="0.8"/>
<circle cx="573.5" cy="430.8" r="0.9" fill="#fff" stroke="none" stroke-width="0"/>
<line x1="354.5" y1="278" x2="354.5" y2="302.5" stroke="#1a1a1a" stroke-width="0.8"/>
<line x1="588.5" y1="278" x2="588.5" y2="302.5" stroke="#1a1a1a" stroke-width="0.8"/>
<line x1="354.4" y1="282.5" x2="588.5" y2="282.5" stroke="#1a1a1a" stroke-width="0.8"/>
<polygon points="354.4,282.5 373.9,279.35 373.9,285.65" fill="#000"/>
<polygon points="588.5,282.5 569,285.65 569,279.35" fill="#000"/>
<text font-family='"Liberation Sans", sans-serif' font-size="29" fill="#000" y="274.3"><tspan x="356.55" textLength="48.58" lengthAdjust="spacingAndGlyphs">3.81</tspan><tspan x="408.94" textLength="17.19" lengthAdjust="spacingAndGlyphs">×</tspan><tspan x="427.48" textLength="84.85" lengthAdjust="spacingAndGlyphs">(P/2-1)</tspan><tspan x="515.94" textLength="15.02" lengthAdjust="spacingAndGlyphs">+</tspan><tspan x="534.47" textLength="50.04" lengthAdjust="spacingAndGlyphs">5.20</tspan></text>
<line x1="156.5" y1="635.4" x2="156.5" y2="660" stroke="#1a1a1a" stroke-width="0.8"/>
<line x1="264.5" y1="633" x2="264.5" y2="697" stroke="#1a1a1a" stroke-width="0.8"/>
<line x1="156.5" y1="641.5" x2="264.4" y2="641.5" stroke="#1a1a1a" stroke-width="0.8"/>
<polygon points="156.5,641.5 176,638.35 176,644.65" fill="#000"/>
<polygon points="264.4,641.5 244.9,644.65 244.9,638.35" fill="#000"/>
<text font-family='"Liberation Sans", sans-serif' font-size="30.01" fill="#000" textLength="54.65" lengthAdjust="spacingAndGlyphs" x="183.11" y="636.2" stroke="#000" stroke-width="0.42">21.90</text>
<path d="M156.5,689.6 V662.2 Q158,660.2 160.5,660.4 Q164,660.8 166.5,663.2 V689.6 Z" fill="none" stroke="#333" stroke-width="0.9"/>
<path d="M156.5,672.5 L166.5,662.8 M156.5,682 L166.5,672.3 M158.5,689.6 L166.5,681.8" fill="none" stroke="#333" stroke-width="0.8"/>
<line x1="156.3" y1="689.6" x2="167" y2="689.6" stroke="#111" stroke-width="1.6"/>
<path d="M165,686 L184,664.8 H188.3" fill="none" stroke="#1a1a1a" stroke-width="0.8"/>
<text font-family='"Liberation Sans", "Noto Sans CJK SC", sans-serif' font-size="18.3" fill="#000" textLength="31.6" lengthAdjust="spacingAndGlyphs" x="192.8" y="674.7">面板</text>
<path d="M156.5,690.5 H173.5 V692.5 H201.5 V700.8 Q201.5,702.5 203,702.5 H264.5 V802.5 H156.5" fill="none" stroke="#333" stroke-width="1"/>
<path d="M156.5,690.5 V725.5 H158.5 V740.5 l-0.9,0.8 l0.9,0.8 V762.5 H156.5 V802.5" fill="none" stroke="#333" stroke-width="0.9"/>
<line x1="158.5" y1="745" x2="158.5" y2="762" stroke="#555" stroke-width="0.7"/>
<path d="M118.6,690.3 H152.4 V698.7 H155.5 V737.4 H152.4 V744.5 H111.3 V715.3 H109 V710.9 H114.1 Z" fill="none" stroke="#222" stroke-width="0.9" stroke-dasharray="6.6 3"/>
<path d="M118.6,764.7 H152.4 V773.1 H155.5 V811.8 H152.4 V818.9 H111.3 V789.7 H109 V785.3 H114.1 Z" fill="none" stroke="#222" stroke-width="0.9" stroke-dasharray="6.6 3"/>
<line x1="81" y1="690.5" x2="118" y2="690.5" stroke="#1a1a1a" stroke-width="0.8"/>
<line x1="81" y1="802.5" x2="151" y2="802.5" stroke="#1a1a1a" stroke-width="0.8"/>
<line x1="85.5" y1="690.3" x2="85.5" y2="803" stroke="#1a1a1a" stroke-width="0.8"/>
<polygon points="85.5,690.3 88.65,709.8 82.35,709.8" fill="#000"/>
<polygon points="85.5,803 82.35,783.5 88.65,783.5" fill="#000"/>
<text font-family='"Liberation Sans", sans-serif' font-size="28.43" fill="#000" textLength="53.82" lengthAdjust="spacingAndGlyphs" transform="translate(80.6,773.68) rotate(-90)" stroke="#000" stroke-width="0.42">22.70</text>
<path d="M156.6,803 H166 V833 L160,836.8 H156.6 Z" fill="none" stroke="#333" stroke-width="0.9"/>
<path d="M156.6,813.5 L166,804.3 M156.6,823.5 L166,814.3 M156.6,833.5 L166,824.3" fill="none" stroke="#333" stroke-width="0.8"/>
<path d="M166,802.2 H284.5 Q283.3,806.5 284.5,811 H166" fill="none" stroke="#333" stroke-width="0.9"/>
<line x1="166" y1="802.2" x2="284.5" y2="802.2" stroke="#444" stroke-width="1.4"/>
<path d="M167.5,803 L172.8,810.6 L178.1,803 L183.4,810.6 L188.7,803 L192.3,808.16" fill="none" stroke="#333" stroke-width="0.8"/>
<path d="M198.3,803 L203.6,810.6 L208.9,803 L214.2,810.6 L219.5,803 L224.8,810.6 L230.1,803 L235.4,810.6 L240.7,803 L246,810.6 L251.3,803 L255.7,809.31" fill="none" stroke="#333" stroke-width="0.8"/>
<path d="M261.7,803 L267,810.6 L272.3,803 L277.6,810.6 L282.9,803 L284,804.58" fill="none" stroke="#333" stroke-width="0.8"/>
<rect x="192.5" y="802.5" width="5" height="14" fill="#ccc" stroke="#333" stroke-width="0.9"/>
<line x1="195.5" y1="802.5" x2="195.5" y2="816" stroke="#333" stroke-width="1.2"/>
<path d="M193.5,816.2 L195.3,820.2 L197.1,816.2" fill="none" stroke="#333" stroke-width="0.8"/>
<line x1="195.5" y1="828.3" x2="195.5" y2="863.5" stroke="#1a1a1a" stroke-width="0.8"/>
<rect x="256.5" y="802.5" width="5" height="14" fill="#ccc" stroke="#333" stroke-width="0.9"/>
<line x1="258.5" y1="802.5" x2="258.5" y2="816" stroke="#333" stroke-width="1.2"/>
<path d="M256.9,816.2 L258.7,820.2 L260.5,816.2" fill="none" stroke="#333" stroke-width="0.8"/>
<line x1="258.5" y1="828.3" x2="258.5" y2="863.5" stroke="#1a1a1a" stroke-width="0.8"/>
<line x1="156.5" y1="838.5" x2="156.5" y2="864" stroke="#1a1a1a" stroke-width="0.8" stroke-dasharray="9 3"/>
<line x1="116.5" y1="859.5" x2="258.7" y2="859.5" stroke="#1a1a1a" stroke-width="0.8"/>
<polygon points="156.2,859.5 136.7,862.65 136.7,856.35" fill="#000"/>
<polygon points="195.3,859.5 214.8,856.35 214.8,862.65" fill="#000"/>
<polygon points="258.7,859.5 239.2,862.65 239.2,856.35" fill="#000"/>
<text font-family='"Liberation Sans", sans-serif' font-size="29.44" fill="#000" textLength="42.81" lengthAdjust="spacingAndGlyphs" x="95.75" y="849.4" stroke="#000" stroke-width="0.42">8.00</text>
<text font-family='"Liberation Sans", sans-serif' font-size="30.01" fill="#000" textLength="54.72" lengthAdjust="spacingAndGlyphs" x="199.24" y="853.6" stroke="#000" stroke-width="0.42">12.70</text>
<line x1="299.5" y1="763.6" x2="299.5" y2="859.6" stroke="#1a1a1a" stroke-width="0.8"/>
<polygon points="299.5,802.2 296.35,782.7 302.65,782.7" fill="#000"/>
<polygon points="299.5,820.2 302.65,839.7 296.35,839.7" fill="#000"/>
<line x1="289.6" y1="802.5" x2="304.8" y2="802.5" stroke="#555" stroke-width="0.8"/>
<line x1="264.4" y1="820.5" x2="304.8" y2="820.5" stroke="#1a1a1a" stroke-width="0.8"/>
<text font-family='"Liberation Sans", sans-serif' font-size="28.86" fill="#000" textLength="41.86" lengthAdjust="spacingAndGlyphs" transform="translate(330,834.02) rotate(-90)" stroke="#000" stroke-width="0.42">3.50</text>
<path d="M273.6,803.4 L280.9,777.9 H294.6" fill="none" stroke="#1a1a1a" stroke-width="0.8"/>
<text font-family='"Liberation Sans", "Noto Sans CJK SC", sans-serif' fill="#000" y="765"><tspan x="270.86" font-size="20.6" textLength="28.69" lengthAdjust="spacingAndGlyphs">PCB</tspan><tspan x="300.08" font-size="18.8" textLength="16.26" lengthAdjust="spacingAndGlyphs">板</tspan></text>
<text font-family='"Liberation Sans", "Noto Sans CJK SC", sans-serif' font-size="19.3" fill="#000" textLength="77.4" lengthAdjust="spacingAndGlyphs" x="126.2" y="923.6">组装图示</text>
<line x1="123.4" y1="930.5" x2="206.5" y2="930.5" stroke="#555" stroke-width="1"/>
<line x1="123.4" y1="935.5" x2="206.5" y2="935.5" stroke="#555" stroke-width="1"/>
<circle cx="408.2" cy="611.6" r="3.6" fill="none" stroke="#111" stroke-width="1"/>
<path d="M403.9,611.6 H412.5 M408.2,607.3 V615.9" fill="none" stroke="#111" stroke-width="0.9"/>
<circle cx="408.2" cy="674.4" r="3.6" fill="none" stroke="#111" stroke-width="1"/>
<path d="M403.9,674.4 H412.5 M408.2,670.1 V678.7" fill="none" stroke="#111" stroke-width="0.9"/>
<circle cx="427.03" cy="611.6" r="3.6" fill="none" stroke="#111" stroke-width="1"/>
<path d="M422.73,611.6 H431.33 M427.03,607.3 V615.9" fill="none" stroke="#111" stroke-width="0.9"/>
<circle cx="427.03" cy="674.4" r="3.6" fill="none" stroke="#111" stroke-width="1"/>
<path d="M422.73,674.4 H431.33 M427.03,670.1 V678.7" fill="none" stroke="#111" stroke-width="0.9"/>
<circle cx="445.86" cy="611.6" r="3.6" fill="none" stroke="#111" stroke-width="1"/>
<path d="M441.56,611.6 H450.16 M445.86,607.3 V615.9" fill="none" stroke="#111" stroke-width="0.9"/>
<circle cx="445.86" cy="674.4" r="3.6" fill="none" stroke="#111" stroke-width="1"/>
<path d="M441.56,674.4 H450.16 M445.86,670.1 V678.7" fill="none" stroke="#111" stroke-width="0.9"/>
<circle cx="464.69" cy="611.6" r="3.6" fill="none" stroke="#111" stroke-width="1"/>
<path d="M460.39,611.6 H468.99 M464.69,607.3 V615.9" fill="none" stroke="#111" stroke-width="0.9"/>
<circle cx="464.69" cy="674.4" r="3.6" fill="none" stroke="#111" stroke-width="1"/>
<path d="M460.39,674.4 H468.99 M464.69,670.1 V678.7" fill="none" stroke="#111" stroke-width="0.9"/>
<circle cx="483.52" cy="611.6" r="3.6" fill="none" stroke="#111" stroke-width="1"/>
<path d="M479.22,611.6 H487.82 M483.52,607.3 V615.9" fill="none" stroke="#111" stroke-width="0.9"/>
<circle cx="483.52" cy="674.4" r="3.6" fill="none" stroke="#111" stroke-width="1"/>
<path d="M479.22,674.4 H487.82 M483.52,670.1 V678.7" fill="none" stroke="#111" stroke-width="0.9"/>
<circle cx="502.35" cy="611.6" r="3.6" fill="none" stroke="#111" stroke-width="1"/>
<path d="M498.05,611.6 H506.65 M502.35,607.3 V615.9" fill="none" stroke="#111" stroke-width="0.9"/>
<circle cx="502.35" cy="674.4" r="3.6" fill="none" stroke="#111" stroke-width="1"/>
<path d="M498.05,674.4 H506.65 M502.35,670.1 V678.7" fill="none" stroke="#111" stroke-width="0.9"/>
<circle cx="521.18" cy="611.6" r="3.6" fill="none" stroke="#111" stroke-width="1"/>
<path d="M516.88,611.6 H525.48 M521.18,607.3 V615.9" fill="none" stroke="#111" stroke-width="0.9"/>
<circle cx="521.18" cy="674.4" r="3.6" fill="none" stroke="#111" stroke-width="1"/>
<path d="M516.88,674.4 H525.48 M521.18,670.1 V678.7" fill="none" stroke="#111" stroke-width="0.9"/>
<circle cx="540.01" cy="611.6" r="3.6" fill="none" stroke="#111" stroke-width="1"/>
<path d="M535.71,611.6 H544.31 M540.01,607.3 V615.9" fill="none" stroke="#111" stroke-width="0.9"/>
<circle cx="540.01" cy="674.4" r="3.6" fill="none" stroke="#111" stroke-width="1"/>
<path d="M535.71,674.4 H544.31 M540.01,670.1 V678.7" fill="none" stroke="#111" stroke-width="0.9"/>
<circle cx="558.84" cy="611.6" r="3.6" fill="none" stroke="#111" stroke-width="1"/>
<path d="M554.54,611.6 H563.14 M558.84,607.3 V615.9" fill="none" stroke="#111" stroke-width="0.9"/>
<circle cx="558.84" cy="674.4" r="3.6" fill="none" stroke="#111" stroke-width="1"/>
<path d="M554.54,674.4 H563.14 M558.84,670.1 V678.7" fill="none" stroke="#111" stroke-width="0.9"/>
<circle cx="577.67" cy="611.6" r="3.6" fill="none" stroke="#111" stroke-width="1"/>
<path d="M573.37,611.6 H581.97 M577.67,607.3 V615.9" fill="none" stroke="#111" stroke-width="0.9"/>
<circle cx="577.67" cy="674.4" r="3.6" fill="none" stroke="#111" stroke-width="1"/>
<path d="M573.37,674.4 H581.97 M577.67,670.1 V678.7" fill="none" stroke="#111" stroke-width="0.9"/>
<rect x="395.5" y="605.5" width="195" height="108" fill="none" stroke="#222" stroke-width="0.9" stroke-dasharray="7.7 3.5"/>
<path d="M372.7,596 C375.87,595.17 374.9,595 382.2,593.5 C389.5,592 385.5,591.93 394.6,591.5 C403.7,591.07 398.73,590.97 409.5,592.2 C420.27,593.43 415.3,593.37 426.9,595.2 C438.5,597.03 433.53,596.53 444.3,597.7 C455.07,598.87 445.97,598.37 459.2,598.7 C472.43,599.03 473.27,598.87 484,598.7 C494.73,598.53 488.93,598.37 491.4,598.2" fill="none" stroke="#1a1a1a" stroke-width="0.8"/>
<path d="M372.7,596 C373.37,600.67 372.2,590.47 374.7,610 C377.2,629.53 377.57,629.8 380.2,654.6 C382.83,679.4 382.63,666.17 382.6,684.4 C382.57,702.63 382.33,694.37 380.1,709.3 C377.87,724.23 377.3,722.57 375.9,729.2" fill="none" stroke="#1a1a1a" stroke-width="0.8"/>
<path d="M375.9,729.2 C382.93,731.67 382.5,732.03 397,736.6 C411.5,741.17 405.3,741.23 419.4,742.9 C433.5,744.57 424.37,743.27 439.3,741.6 C454.23,739.93 447.43,740.03 464.2,737.9 C480.97,735.77 481.13,736.1 489.6,735.2" fill="none" stroke="#1a1a1a" stroke-width="0.8"/>
<path d="M491.4,598.2 C491.37,605.47 491.7,599.4 491.3,620 C490.9,640.6 490.83,633.33 490.2,660 C489.57,686.67 489.6,674.93 489.4,700 C489.2,725.07 489.53,723.47 489.6,735.2" fill="none" stroke="#1a1a1a" stroke-width="0.8"/>
<path d="M496.3,598.4 C504.1,597.57 503.6,597.53 519.7,595.9 C535.8,594.27 526.37,594.47 544.6,593.5 C562.83,592.53 552.87,592.77 574.4,593 C595.93,593.23 588.63,593.47 609.2,594.2 C629.77,594.93 627.13,594.87 636.1,595.2" fill="none" stroke="#1a1a1a" stroke-width="0.8"/>
<path d="M636.1,595.2 C635.13,601.67 633.57,598.2 633.2,614.6 C632.83,631 633.4,625.27 635,644.4 C636.6,663.53 636.93,657.47 638,672 C639.07,686.53 638.8,677.67 638.2,688 C637.6,698.33 637.73,693.67 636.2,703 C634.67,712.33 635,709 633.6,716 C632.2,723 632.57,718.9 632,724 C631.43,729.1 631.93,728.87 631.9,731.3" fill="none" stroke="#1a1a1a" stroke-width="0.8"/>
<path d="M631.9,731.2 C627.07,732.8 631.93,733.6 617.4,736 C602.87,738.4 607.67,738.4 588.3,738.4 C568.93,738.4 575.4,737.1 559.3,736 C543.2,734.9 554.77,735.93 540,735.1 C525.23,734.27 530.43,734.33 515,733.5 C499.57,732.67 500.8,732.9 493.7,732.6" fill="none" stroke="#1a1a1a" stroke-width="0.8"/>
<path d="M496.3,598.4 C496.27,605.6 496.63,599.47 496.2,620 C495.77,640.53 495.8,633.33 495,660 C494.2,686.67 494.23,675.8 493.8,700 C493.37,724.2 493.73,721.73 493.7,732.6" fill="none" stroke="#1a1a1a" stroke-width="0.8"/>
<line x1="408.5" y1="585.5" x2="408.5" y2="604" stroke="#1a1a1a" stroke-width="0.8"/>
<line x1="577.5" y1="585.5" x2="577.5" y2="604" stroke="#1a1a1a" stroke-width="0.8"/>
<line x1="408.2" y1="590.5" x2="577.7" y2="590.5" stroke="#1a1a1a" stroke-width="0.8"/>
<polygon points="408.2,590.5 427.7,587.35 427.7,593.65" fill="#000"/>
<polygon points="577.7,590.5 558.2,593.65 558.2,587.35" fill="#000"/>
<text font-family='"Liberation Sans", sans-serif' font-size="29.15" fill="#000" y="574.9"><tspan x="413.95" textLength="48.68" lengthAdjust="spacingAndGlyphs">3.81</tspan><tspan x="465.92" textLength="17.32" lengthAdjust="spacingAndGlyphs">×</tspan><tspan x="484.53" textLength="73.4" lengthAdjust="spacingAndGlyphs">(P/2-1</tspan><tspan x="562.69" dy="-1.3" font-size="32.5" textLength="11.44" lengthAdjust="spacingAndGlyphs">)</tspan></text>
<line x1="350.3" y1="611.5" x2="399.5" y2="611.5" stroke="#1a1a1a" stroke-width="0.8"/>
<line x1="350.3" y1="674.5" x2="403" y2="674.5" stroke="#1a1a1a" stroke-width="0.8"/>
<line x1="355.5" y1="611.6" x2="355.5" y2="674.4" stroke="#1a1a1a" stroke-width="0.8"/>
<polygon points="355.5,611.6 358.65,631.1 352.35,631.1" fill="#000"/>
<polygon points="355.5,674.4 352.35,654.9 358.65,654.9" fill="#000"/>
<text font-family='"Liberation Sans", sans-serif' font-size="29.44" fill="#000" textLength="66.15" lengthAdjust="spacingAndGlyphs" transform="translate(345.4,665.11) rotate(-90)" stroke="#000" stroke-width="0.22">12.70</text>
<line x1="408.5" y1="679.5" x2="408.5" y2="711.3" stroke="#1a1a1a" stroke-width="0.8"/>
<line x1="427.5" y1="679.5" x2="427.5" y2="711.3" stroke="#1a1a1a" stroke-width="0.8"/>
<line x1="369.2" y1="706.5" x2="466.7" y2="706.5" stroke="#1a1a1a" stroke-width="0.8"/>
<polygon points="408.2,706.5 388.7,709.65 388.7,703.35" fill="#000"/>
<polygon points="427.2,706.5 446.7,703.35 446.7,709.65" fill="#000"/>
<text font-family='"Liberation Sans", sans-serif' font-size="29.73" fill="#000" textLength="47.43" lengthAdjust="spacingAndGlyphs" x="398.27" y="734.9" stroke="#000" stroke-width="0.4">3.81</text>
<line x1="460" y1="645.7" x2="617.4" y2="683.6" stroke="#1a1a1a" stroke-width="0.8"/>
<polygon points="574.5,673.6 554.96,671.44 556.13,666.58" fill="#000"/>
<polygon points="580.9,675.2 600.44,677.36 599.27,682.22" fill="#000"/>
<text font-family='"Liberation Sans", sans-serif' fill="#000" transform="translate(471.8,640.4) rotate(13.8)"><tspan x="0" y="0" font-size="27" textLength="21" lengthAdjust="spacingAndGlyphs">Ø</tspan><tspan x="25.75" y="0.9" font-size="32" font-style="italic" textLength="51.5" lengthAdjust="spacingAndGlyphs">1.45</tspan></text>
<line x1="610.5" y1="634.5" x2="610.5" y2="753.4" stroke="#1a1a1a" stroke-width="0.8"/>
<polygon points="610.5,674.4 607.35,654.9 613.65,654.9" fill="#000"/>
<polygon points="610.5,713.3 613.65,732.8 607.35,732.8" fill="#000"/>
<line x1="584.9" y1="674.5" x2="615.8" y2="674.5" stroke="#1a1a1a" stroke-width="0.8"/>
<line x1="591" y1="713.5" x2="615.8" y2="713.5" stroke="#1a1a1a" stroke-width="0.8"/>
<text font-family='"Liberation Sans", sans-serif' font-size="28.57" fill="#000" textLength="51.16" lengthAdjust="spacingAndGlyphs" transform="translate(636.1,726.43) rotate(-90)">8.00</text>
<text font-family='"Liberation Sans", "Noto Sans CJK SC", sans-serif' font-size="21.6" fill="#000" textLength="154" lengthAdjust="spacingAndGlyphs" x="407.6" y="781.4">PCB板开孔图示</text>
<line x1="405.2" y1="789.5" x2="563.2" y2="789.5" stroke="#555" stroke-width="1"/>
<line x1="405.2" y1="792.5" x2="563.2" y2="792.5" stroke="#555" stroke-width="1"/>
<rect x="390.5" y="835.5" width="200" height="117" fill="none" stroke="#333" stroke-width="0.9"/>
<rect x="392.5" y="837.5" width="195" height="112" fill="none" stroke="#111" stroke-width="0.8" stroke-dasharray="8.6 3"/>
<line x1="393" y1="894.5" x2="587.5" y2="894.5" stroke="#111" stroke-width="0.8" stroke-dasharray="8.6 3"/>
<line x1="393" y1="896.5" x2="587.5" y2="896.5" stroke="#111" stroke-width="0.8" stroke-dasharray="8.6 3"/>
<path d="M495.6,824.2 C470,822 420,808 356.9,821.1 C346,860 360,905 347.5,947 Q349,958 353,963.5 C375,960 395,961 415,968 C440,977 470,970 489,966" fill="none" stroke="#1a1a1a" stroke-width="0.8"/>
<path d="M495.6,824.2 C497,850 486,900 489,966" fill="none" stroke="#1a1a1a" stroke-width="0.8"/>
<path d="M499.3,823.8 C530,822 580,822.5 626.5,826.4 C625,860 634,885 626,925 C624,945 625.5,955 625,965 C590,963 540,967 494.6,968.6" fill="none" stroke="#1a1a1a" stroke-width="0.8"/>
<path d="M499.3,823.8 C500.5,850 490,900 494.6,968.6" fill="none" stroke="#1a1a1a" stroke-width="0.8"/>
<path d="M397.1,842.4 H402.8 M408.6,842.4 H414.3" fill="none" stroke="#111" stroke-width="1.7"/>
<path d="M397.4,842.4 L399.5,847.1 H411.9 M414,842.4 L411.9,847.1" fill="none" stroke="#111" stroke-width="1.1"/>
<path d="M401,847.1 V848.9 M410.4,847.1 V848.9" fill="none" stroke="#111" stroke-width="1.1"/>
<path d="M401,848.9 H397.3 V871.6 H401.3 Q402.1,869.7 405.7,869.7 Q409.3,869.7 410.1,871.6 H414.1 V848.9 H410.4" fill="none" stroke="#111" stroke-width="1.3"/>
<path d="M399.4,849.6 V862.9 H401.4 V865 M412,849.6 V862.9 H410 V865" fill="none" stroke="#111" stroke-width="0.9"/>
<ellipse cx="405.7" cy="858.8" rx="2.9" ry="2.3" fill="#444" stroke="#111" stroke-width="0.8"/>
<path d="M400.8,855.4 Q402.5,855.2 404.1,859 M410.6,855.4 Q408.9,855.2 407.3,859" fill="none" stroke="#111" stroke-width="1.3"/>
<path d="M403.1,862.4 H408.3 M403.7,864.1 H407.7" fill="none" stroke="#222" stroke-width="0.8"/>
<path d="M397.1,917.5 H402.8 M408.6,917.5 H414.3" fill="none" stroke="#111" stroke-width="1.7"/>
<path d="M397.4,917.5 L399.5,922.2 H411.9 M414,917.5 L411.9,922.2" fill="none" stroke="#111" stroke-width="1.1"/>
<path d="M401,922.2 V924 M410.4,922.2 V924" fill="none" stroke="#111" stroke-width="1.1"/>
<path d="M401,924 H397.3 V946.7 H401.3 Q402.1,944.8 405.7,944.8 Q409.3,944.8 410.1,946.7 H414.1 V924 H410.4" fill="none" stroke="#111" stroke-width="1.3"/>
<path d="M399.4,924.7 V938 H401.4 V940.1 M412,924.7 V938 H410 V940.1" fill="none" stroke="#111" stroke-width="0.9"/>
<ellipse cx="405.7" cy="933.9" rx="2.9" ry="2.3" fill="#444" stroke="#111" stroke-width="0.8"/>
<path d="M400.8,930.5 Q402.5,930.3 404.1,934.1 M410.6,930.5 Q408.9,930.3 407.3,934.1" fill="none" stroke="#111" stroke-width="1.3"/>
<path d="M403.1,937.5 H408.3 M403.7,939.2 H407.7" fill="none" stroke="#222" stroke-width="0.8"/>
<path d="M415.93,842.4 H421.63 M427.43,842.4 H433.13" fill="none" stroke="#111" stroke-width="1.7"/>
<path d="M416.23,842.4 L418.33,847.1 H430.73 M432.83,842.4 L430.73,847.1" fill="none" stroke="#111" stroke-width="1.1"/>
<path d="M419.83,847.1 V848.9 M429.23,847.1 V848.9" fill="none" stroke="#111" stroke-width="1.1"/>
<path d="M419.83,848.9 H416.13 V871.6 H420.13 Q420.93,869.7 424.53,869.7 Q428.13,869.7 428.93,871.6 H432.93 V848.9 H429.23" fill="none" stroke="#111" stroke-width="1.3"/>
<path d="M418.23,849.6 V862.9 H420.23 V865 M430.83,849.6 V862.9 H428.83 V865" fill="none" stroke="#111" stroke-width="0.9"/>
<ellipse cx="424.53" cy="858.8" rx="2.9" ry="2.3" fill="#444" stroke="#111" stroke-width="0.8"/>
<path d="M419.63,855.4 Q421.33,855.2 422.93,859 M429.43,855.4 Q427.73,855.2 426.13,859" fill="none" stroke="#111" stroke-width="1.3"/>
<path d="M421.93,862.4 H427.13 M422.53,864.1 H426.53" fill="none" stroke="#222" stroke-width="0.8"/>
<path d="M415.93,917.5 H421.63 M427.43,917.5 H433.13" fill="none" stroke="#111" stroke-width="1.7"/>
<path d="M416.23,917.5 L418.33,922.2 H430.73 M432.83,917.5 L430.73,922.2" fill="none" stroke="#111" stroke-width="1.1"/>
<path d="M419.83,922.2 V924 M429.23,922.2 V924" fill="none" stroke="#111" stroke-width="1.1"/>
<path d="M419.83,924 H416.13 V946.7 H420.13 Q420.93,944.8 424.53,944.8 Q428.13,944.8 428.93,946.7 H432.93 V924 H429.23" fill="none" stroke="#111" stroke-width="1.3"/>
<path d="M418.23,924.7 V938 H420.23 V940.1 M430.83,924.7 V938 H428.83 V940.1" fill="none" stroke="#111" stroke-width="0.9"/>
<ellipse cx="424.53" cy="933.9" rx="2.9" ry="2.3" fill="#444" stroke="#111" stroke-width="0.8"/>
<path d="M419.63,930.5 Q421.33,930.3 422.93,934.1 M429.43,930.5 Q427.73,930.3 426.13,934.1" fill="none" stroke="#111" stroke-width="1.3"/>
<path d="M421.93,937.5 H427.13 M422.53,939.2 H426.53" fill="none" stroke="#222" stroke-width="0.8"/>
<path d="M434.76,842.4 H440.46 M446.26,842.4 H451.96" fill="none" stroke="#111" stroke-width="1.7"/>
<path d="M435.06,842.4 L437.16,847.1 H449.56 M451.66,842.4 L449.56,847.1" fill="none" stroke="#111" stroke-width="1.1"/>
<path d="M438.66,847.1 V848.9 M448.06,847.1 V848.9" fill="none" stroke="#111" stroke-width="1.1"/>
<path d="M438.66,848.9 H434.96 V871.6 H438.96 Q439.76,869.7 443.36,869.7 Q446.96,869.7 447.76,871.6 H451.76 V848.9 H448.06" fill="none" stroke="#111" stroke-width="1.3"/>
<path d="M437.06,849.6 V862.9 H439.06 V865 M449.66,849.6 V862.9 H447.66 V865" fill="none" stroke="#111" stroke-width="0.9"/>
<ellipse cx="443.36" cy="858.8" rx="2.9" ry="2.3" fill="#444" stroke="#111" stroke-width="0.8"/>
<path d="M438.46,855.4 Q440.16,855.2 441.76,859 M448.26,855.4 Q446.56,855.2 444.96,859" fill="none" stroke="#111" stroke-width="1.3"/>
<path d="M440.76,862.4 H445.96 M441.36,864.1 H445.36" fill="none" stroke="#222" stroke-width="0.8"/>
<path d="M434.76,917.5 H440.46 M446.26,917.5 H451.96" fill="none" stroke="#111" stroke-width="1.7"/>
<path d="M435.06,917.5 L437.16,922.2 H449.56 M451.66,917.5 L449.56,922.2" fill="none" stroke="#111" stroke-width="1.1"/>
<path d="M438.66,922.2 V924 M448.06,922.2 V924" fill="none" stroke="#111" stroke-width="1.1"/>
<path d="M438.66,924 H434.96 V946.7 H438.96 Q439.76,944.8 443.36,944.8 Q446.96,944.8 447.76,946.7 H451.76 V924 H448.06" fill="none" stroke="#111" stroke-width="1.3"/>
<path d="M437.06,924.7 V938 H439.06 V940.1 M449.66,924.7 V938 H447.66 V940.1" fill="none" stroke="#111" stroke-width="0.9"/>
<ellipse cx="443.36" cy="933.9" rx="2.9" ry="2.3" fill="#444" stroke="#111" stroke-width="0.8"/>
<path d="M438.46,930.5 Q440.16,930.3 441.76,934.1 M448.26,930.5 Q446.56,930.3 444.96,934.1" fill="none" stroke="#111" stroke-width="1.3"/>
<path d="M440.76,937.5 H445.96 M441.36,939.2 H445.36" fill="none" stroke="#222" stroke-width="0.8"/>
<path d="M453.59,842.4 H459.29 M465.09,842.4 H470.79" fill="none" stroke="#111" stroke-width="1.7"/>
<path d="M453.89,842.4 L455.99,847.1 H468.39 M470.49,842.4 L468.39,847.1" fill="none" stroke="#111" stroke-width="1.1"/>
<path d="M457.49,847.1 V848.9 M466.89,847.1 V848.9" fill="none" stroke="#111" stroke-width="1.1"/>
<path d="M457.49,848.9 H453.79 V871.6 H457.79 Q458.59,869.7 462.19,869.7 Q465.79,869.7 466.59,871.6 H470.59 V848.9 H466.89" fill="none" stroke="#111" stroke-width="1.3"/>
<path d="M455.89,849.6 V862.9 H457.89 V865 M468.49,849.6 V862.9 H466.49 V865" fill="none" stroke="#111" stroke-width="0.9"/>
<ellipse cx="462.19" cy="858.8" rx="2.9" ry="2.3" fill="#444" stroke="#111" stroke-width="0.8"/>
<path d="M457.29,855.4 Q458.99,855.2 460.59,859 M467.09,855.4 Q465.39,855.2 463.79,859" fill="none" stroke="#111" stroke-width="1.3"/>
<path d="M459.59,862.4 H464.79 M460.19,864.1 H464.19" fill="none" stroke="#222" stroke-width="0.8"/>
<path d="M453.59,917.5 H459.29 M465.09,917.5 H470.79" fill="none" stroke="#111" stroke-width="1.7"/>
<path d="M453.89,917.5 L455.99,922.2 H468.39 M470.49,917.5 L468.39,922.2" fill="none" stroke="#111" stroke-width="1.1"/>
<path d="M457.49,922.2 V924 M466.89,922.2 V924" fill="none" stroke="#111" stroke-width="1.1"/>
<path d="M457.49,924 H453.79 V946.7 H457.79 Q458.59,944.8 462.19,944.8 Q465.79,944.8 466.59,946.7 H470.59 V924 H466.89" fill="none" stroke="#111" stroke-width="1.3"/>
<path d="M455.89,924.7 V938 H457.89 V940.1 M468.49,924.7 V938 H466.49 V940.1" fill="none" stroke="#111" stroke-width="0.9"/>
<ellipse cx="462.19" cy="933.9" rx="2.9" ry="2.3" fill="#444" stroke="#111" stroke-width="0.8"/>
<path d="M457.29,930.5 Q458.99,930.3 460.59,934.1 M467.09,930.5 Q465.39,930.3 463.79,934.1" fill="none" stroke="#111" stroke-width="1.3"/>
<path d="M459.59,937.5 H464.79 M460.19,939.2 H464.19" fill="none" stroke="#222" stroke-width="0.8"/>
<path d="M472.42,842.4 H478.12 M483.92,842.4 H489.62" fill="none" stroke="#111" stroke-width="1.7"/>
<path d="M472.72,842.4 L474.82,847.1 H487.22 M489.32,842.4 L487.22,847.1" fill="none" stroke="#111" stroke-width="1.1"/>
<path d="M476.32,847.1 V848.9 M485.72,847.1 V848.9" fill="none" stroke="#111" stroke-width="1.1"/>
<path d="M476.32,848.9 H472.62 V871.6 H476.62 Q477.42,869.7 481.02,869.7 Q484.62,869.7 485.42,871.6 H489.42 V848.9 H485.72" fill="none" stroke="#111" stroke-width="1.3"/>
<path d="M474.72,849.6 V862.9 H476.72 V865 M487.32,849.6 V862.9 H485.32 V865" fill="none" stroke="#111" stroke-width="0.9"/>
<ellipse cx="481.02" cy="858.8" rx="2.9" ry="2.3" fill="#444" stroke="#111" stroke-width="0.8"/>
<path d="M476.12,855.4 Q477.82,855.2 479.42,859 M485.92,855.4 Q484.22,855.2 482.62,859" fill="none" stroke="#111" stroke-width="1.3"/>
<path d="M478.42,862.4 H483.62 M479.02,864.1 H483.02" fill="none" stroke="#222" stroke-width="0.8"/>
<path d="M472.42,917.5 H478.12 M483.92,917.5 H489.62" fill="none" stroke="#111" stroke-width="1.7"/>
<path d="M472.72,917.5 L474.82,922.2 H487.22 M489.32,917.5 L487.22,922.2" fill="none" stroke="#111" stroke-width="1.1"/>
<path d="M476.32,922.2 V924 M485.72,922.2 V924" fill="none" stroke="#111" stroke-width="1.1"/>
<path d="M476.32,924 H472.62 V946.7 H476.62 Q477.42,944.8 481.02,944.8 Q484.62,944.8 485.42,946.7 H489.42 V924 H485.72" fill="none" stroke="#111" stroke-width="1.3"/>
<path d="M474.72,924.7 V938 H476.72 V940.1 M487.32,924.7 V938 H485.32 V940.1" fill="none" stroke="#111" stroke-width="0.9"/>
<ellipse cx="481.02" cy="933.9" rx="2.9" ry="2.3" fill="#444" stroke="#111" stroke-width="0.8"/>
<path d="M476.12,930.5 Q477.82,930.3 479.42,934.1 M485.92,930.5 Q484.22,930.3 482.62,934.1" fill="none" stroke="#111" stroke-width="1.3"/>
<path d="M478.42,937.5 H483.62 M479.02,939.2 H483.02" fill="none" stroke="#222" stroke-width="0.8"/>
<path d="M491.25,842.4 H496.95 M502.75,842.4 H508.45" fill="none" stroke="#111" stroke-width="1.7"/>
<path d="M491.55,842.4 L493.65,847.1 H506.05 M508.15,842.4 L506.05,847.1" fill="none" stroke="#111" stroke-width="1.1"/>
<path d="M495.15,847.1 V848.9 M504.55,847.1 V848.9" fill="none" stroke="#111" stroke-width="1.1"/>
<path d="M495.15,848.9 H491.45 V871.6 H495.45 Q496.25,869.7 499.85,869.7 Q503.45,869.7 504.25,871.6 H508.25 V848.9 H504.55" fill="none" stroke="#111" stroke-width="1.3"/>
<path d="M493.55,849.6 V862.9 H495.55 V865 M506.15,849.6 V862.9 H504.15 V865" fill="none" stroke="#111" stroke-width="0.9"/>
<ellipse cx="499.85" cy="858.8" rx="2.9" ry="2.3" fill="#444" stroke="#111" stroke-width="0.8"/>
<path d="M494.95,855.4 Q496.65,855.2 498.25,859 M504.75,855.4 Q503.05,855.2 501.45,859" fill="none" stroke="#111" stroke-width="1.3"/>
<path d="M497.25,862.4 H502.45 M497.85,864.1 H501.85" fill="none" stroke="#222" stroke-width="0.8"/>
<path d="M491.25,917.5 H496.95 M502.75,917.5 H508.45" fill="none" stroke="#111" stroke-width="1.7"/>
<path d="M491.55,917.5 L493.65,922.2 H506.05 M508.15,917.5 L506.05,922.2" fill="none" stroke="#111" stroke-width="1.1"/>
<path d="M495.15,922.2 V924 M504.55,922.2 V924" fill="none" stroke="#111" stroke-width="1.1"/>
<path d="M495.15,924 H491.45 V946.7 H495.45 Q496.25,944.8 499.85,944.8 Q503.45,944.8 504.25,946.7 H508.25 V924 H504.55" fill="none" stroke="#111" stroke-width="1.3"/>
<path d="M493.55,924.7 V938 H495.55 V940.1 M506.15,924.7 V938 H504.15 V940.1" fill="none" stroke="#111" stroke-width="0.9"/>
<ellipse cx="499.85" cy="933.9" rx="2.9" ry="2.3" fill="#444" stroke="#111" stroke-width="0.8"/>
<path d="M494.95,930.5 Q496.65,930.3 498.25,934.1 M504.75,930.5 Q503.05,930.3 501.45,934.1" fill="none" stroke="#111" stroke-width="1.3"/>
<path d="M497.25,937.5 H502.45 M497.85,939.2 H501.85" fill="none" stroke="#222" stroke-width="0.8"/>
<path d="M510.08,842.4 H515.78 M521.58,842.4 H527.28" fill="none" stroke="#111" stroke-width="1.7"/>
<path d="M510.38,842.4 L512.48,847.1 H524.88 M526.98,842.4 L524.88,847.1" fill="none" stroke="#111" stroke-width="1.1"/>
<path d="M513.98,847.1 V848.9 M523.38,847.1 V848.9" fill="none" stroke="#111" stroke-width="1.1"/>
<path d="M513.98,848.9 H510.28 V871.6 H514.28 Q515.08,869.7 518.68,869.7 Q522.28,869.7 523.08,871.6 H527.08 V848.9 H523.38" fill="none" stroke="#111" stroke-width="1.3"/>
<path d="M512.38,849.6 V862.9 H514.38 V865 M524.98,849.6 V862.9 H522.98 V865" fill="none" stroke="#111" stroke-width="0.9"/>
<ellipse cx="518.68" cy="858.8" rx="2.9" ry="2.3" fill="#444" stroke="#111" stroke-width="0.8"/>
<path d="M513.78,855.4 Q515.48,855.2 517.08,859 M523.58,855.4 Q521.88,855.2 520.28,859" fill="none" stroke="#111" stroke-width="1.3"/>
<path d="M516.08,862.4 H521.28 M516.68,864.1 H520.68" fill="none" stroke="#222" stroke-width="0.8"/>
<path d="M510.08,917.5 H515.78 M521.58,917.5 H527.28" fill="none" stroke="#111" stroke-width="1.7"/>
<path d="M510.38,917.5 L512.48,922.2 H524.88 M526.98,917.5 L524.88,922.2" fill="none" stroke="#111" stroke-width="1.1"/>
<path d="M513.98,922.2 V924 M523.38,922.2 V924" fill="none" stroke="#111" stroke-width="1.1"/>
<path d="M513.98,924 H510.28 V946.7 H514.28 Q515.08,944.8 518.68,944.8 Q522.28,944.8 523.08,946.7 H527.08 V924 H523.38" fill="none" stroke="#111" stroke-width="1.3"/>
<path d="M512.38,924.7 V938 H514.38 V940.1 M524.98,924.7 V938 H522.98 V940.1" fill="none" stroke="#111" stroke-width="0.9"/>
<ellipse cx="518.68" cy="933.9" rx="2.9" ry="2.3" fill="#444" stroke="#111" stroke-width="0.8"/>
<path d="M513.78,930.5 Q515.48,930.3 517.08,934.1 M523.58,930.5 Q521.88,930.3 520.28,934.1" fill="none" stroke="#111" stroke-width="1.3"/>
<path d="M516.08,937.5 H521.28 M516.68,939.2 H520.68" fill="none" stroke="#222" stroke-width="0.8"/>
<path d="M528.91,842.4 H534.61 M540.41,842.4 H546.11" fill="none" stroke="#111" stroke-width="1.7"/>
<path d="M529.21,842.4 L531.31,847.1 H543.71 M545.81,842.4 L543.71,847.1" fill="none" stroke="#111" stroke-width="1.1"/>
<path d="M532.81,847.1 V848.9 M542.21,847.1 V848.9" fill="none" stroke="#111" stroke-width="1.1"/>
<path d="M532.81,848.9 H529.11 V871.6 H533.11 Q533.91,869.7 537.51,869.7 Q541.11,869.7 541.91,871.6 H545.91 V848.9 H542.21" fill="none" stroke="#111" stroke-width="1.3"/>
<path d="M531.21,849.6 V862.9 H533.21 V865 M543.81,849.6 V862.9 H541.81 V865" fill="none" stroke="#111" stroke-width="0.9"/>
<ellipse cx="537.51" cy="858.8" rx="2.9" ry="2.3" fill="#444" stroke="#111" stroke-width="0.8"/>
<path d="M532.61,855.4 Q534.31,855.2 535.91,859 M542.41,855.4 Q540.71,855.2 539.11,859" fill="none" stroke="#111" stroke-width="1.3"/>
<path d="M534.91,862.4 H540.11 M535.51,864.1 H539.51" fill="none" stroke="#222" stroke-width="0.8"/>
<path d="M528.91,917.5 H534.61 M540.41,917.5 H546.11" fill="none" stroke="#111" stroke-width="1.7"/>
<path d="M529.21,917.5 L531.31,922.2 H543.71 M545.81,917.5 L543.71,922.2" fill="none" stroke="#111" stroke-width="1.1"/>
<path d="M532.81,922.2 V924 M542.21,922.2 V924" fill="none" stroke="#111" stroke-width="1.1"/>
<path d="M532.81,924 H529.11 V946.7 H533.11 Q533.91,944.8 537.51,944.8 Q541.11,944.8 541.91,946.7 H545.91 V924 H542.21" fill="none" stroke="#111" stroke-width="1.3"/>
<path d="M531.21,924.7 V938 H533.21 V940.1 M543.81,924.7 V938 H541.81 V940.1" fill="none" stroke="#111" stroke-width="0.9"/>
<ellipse cx="537.51" cy="933.9" rx="2.9" ry="2.3" fill="#444" stroke="#111" stroke-width="0.8"/>
<path d="M532.61,930.5 Q534.31,930.3 535.91,934.1 M542.41,930.5 Q540.71,930.3 539.11,934.1" fill="none" stroke="#111" stroke-width="1.3"/>
<path d="M534.91,937.5 H540.11 M535.51,939.2 H539.51" fill="none" stroke="#222" stroke-width="0.8"/>
<path d="M547.74,842.4 H553.44 M559.24,842.4 H564.94" fill="none" stroke="#111" stroke-width="1.7"/>
<path d="M548.04,842.4 L550.14,847.1 H562.54 M564.64,842.4 L562.54,847.1" fill="none" stroke="#111" stroke-width="1.1"/>
<path d="M551.64,847.1 V848.9 M561.04,847.1 V848.9" fill="none" stroke="#111" stroke-width="1.1"/>
<path d="M551.64,848.9 H547.94 V871.6 H551.94 Q552.74,869.7 556.34,869.7 Q559.94,869.7 560.74,871.6 H564.74 V848.9 H561.04" fill="none" stroke="#111" stroke-width="1.3"/>
<path d="M550.04,849.6 V862.9 H552.04 V865 M562.64,849.6 V862.9 H560.64 V865" fill="none" stroke="#111" stroke-width="0.9"/>
<ellipse cx="556.34" cy="858.8" rx="2.9" ry="2.3" fill="#444" stroke="#111" stroke-width="0.8"/>
<path d="M551.44,855.4 Q553.14,855.2 554.74,859 M561.24,855.4 Q559.54,855.2 557.94,859" fill="none" stroke="#111" stroke-width="1.3"/>
<path d="M553.74,862.4 H558.94 M554.34,864.1 H558.34" fill="none" stroke="#222" stroke-width="0.8"/>
<path d="M547.74,917.5 H553.44 M559.24,917.5 H564.94" fill="none" stroke="#111" stroke-width="1.7"/>
<path d="M548.04,917.5 L550.14,922.2 H562.54 M564.64,917.5 L562.54,922.2" fill="none" stroke="#111" stroke-width="1.1"/>
<path d="M551.64,922.2 V924 M561.04,922.2 V924" fill="none" stroke="#111" stroke-width="1.1"/>
<path d="M551.64,924 H547.94 V946.7 H551.94 Q552.74,944.8 556.34,944.8 Q559.94,944.8 560.74,946.7 H564.74 V924 H561.04" fill="none" stroke="#111" stroke-width="1.3"/>
<path d="M550.04,924.7 V938 H552.04 V940.1 M562.64,924.7 V938 H560.64 V940.1" fill="none" stroke="#111" stroke-width="0.9"/>
<ellipse cx="556.34" cy="933.9" rx="2.9" ry="2.3" fill="#444" stroke="#111" stroke-width="0.8"/>
<path d="M551.44,930.5 Q553.14,930.3 554.74,934.1 M561.24,930.5 Q559.54,930.3 557.94,934.1" fill="none" stroke="#111" stroke-width="1.3"/>
<path d="M553.74,937.5 H558.94 M554.34,939.2 H558.34" fill="none" stroke="#222" stroke-width="0.8"/>
<path d="M566.57,842.4 H572.27 M578.07,842.4 H583.77" fill="none" stroke="#111" stroke-width="1.7"/>
<path d="M566.87,842.4 L568.97,847.1 H581.37 M583.47,842.4 L581.37,847.1" fill="none" stroke="#111" stroke-width="1.1"/>
<path d="M570.47,847.1 V848.9 M579.87,847.1 V848.9" fill="none" stroke="#111" stroke-width="1.1"/>
<path d="M570.47,848.9 H566.77 V871.6 H570.77 Q571.57,869.7 575.17,869.7 Q578.77,869.7 579.57,871.6 H583.57 V848.9 H579.87" fill="none" stroke="#111" stroke-width="1.3"/>
<path d="M568.87,849.6 V862.9 H570.87 V865 M581.47,849.6 V862.9 H579.47 V865" fill="none" stroke="#111" stroke-width="0.9"/>
<ellipse cx="575.17" cy="858.8" rx="2.9" ry="2.3" fill="#444" stroke="#111" stroke-width="0.8"/>
<path d="M570.27,855.4 Q571.97,855.2 573.57,859 M580.07,855.4 Q578.37,855.2 576.77,859" fill="none" stroke="#111" stroke-width="1.3"/>
<path d="M572.57,862.4 H577.77 M573.17,864.1 H577.17" fill="none" stroke="#222" stroke-width="0.8"/>
<path d="M566.57,917.5 H572.27 M578.07,917.5 H583.77" fill="none" stroke="#111" stroke-width="1.7"/>
<path d="M566.87,917.5 L568.97,922.2 H581.37 M583.47,917.5 L581.37,922.2" fill="none" stroke="#111" stroke-width="1.1"/>
<path d="M570.47,922.2 V924 M579.87,922.2 V924" fill="none" stroke="#111" stroke-width="1.1"/>
<path d="M570.47,924 H566.77 V946.7 H570.77 Q571.57,944.8 575.17,944.8 Q578.77,944.8 579.57,946.7 H583.57 V924 H579.87" fill="none" stroke="#111" stroke-width="1.3"/>
<path d="M568.87,924.7 V938 H570.87 V940.1 M581.47,924.7 V938 H579.47 V940.1" fill="none" stroke="#111" stroke-width="0.9"/>
<ellipse cx="575.17" cy="933.9" rx="2.9" ry="2.3" fill="#444" stroke="#111" stroke-width="0.8"/>
<path d="M570.27,930.5 Q571.97,930.3 573.57,934.1 M580.07,930.5 Q578.37,930.3 576.77,934.1" fill="none" stroke="#111" stroke-width="1.3"/>
<path d="M572.57,937.5 H577.77 M573.17,939.2 H577.17" fill="none" stroke="#222" stroke-width="0.8"/>
<line x1="570.5" y1="795.6" x2="570.5" y2="877" stroke="#1a1a1a" stroke-width="0.8"/>
<polygon points="570.5,835.6 567.35,816.1 573.65,816.1" fill="#000"/>
<polygon points="570.5,837.8 573.65,857.3 567.35,857.3" fill="#000"/>
<text font-family='"Liberation Sans", sans-serif' font-size="29.15" fill="#000" textLength="67.83" lengthAdjust="spacingAndGlyphs" transform="translate(600.4,833.21) rotate(-90)" stroke="#000" stroke-width="0.24">(0.50)</text>
<line x1="594.8" y1="835.5" x2="680" y2="835.5" stroke="#1a1a1a" stroke-width="0.8"/>
<line x1="594.8" y1="952.5" x2="680" y2="952.5" stroke="#1a1a1a" stroke-width="0.8"/>
<line x1="673.5" y1="835.8" x2="673.5" y2="952" stroke="#1a1a1a" stroke-width="0.8"/>
<polygon points="673.5,835.8 676.65,855.3 670.35,855.3" fill="#000"/>
<polygon points="673.5,952 670.35,932.5 676.65,932.5" fill="#000"/>
<text font-family='"Liberation Sans", sans-serif' font-size="29.44" fill="#000" textLength="66.17" lengthAdjust="spacingAndGlyphs" transform="translate(660.3,928.12) rotate(-90)" stroke="#000" stroke-width="0.22">23.70</text>
<line x1="390.5" y1="952" x2="390.5" y2="997.4" stroke="#1a1a1a" stroke-width="0.8"/>
<line x1="392.5" y1="952" x2="392.5" y2="986" stroke="#1a1a1a" stroke-width="0.8"/>
<line x1="590.5" y1="952" x2="590.5" y2="997.7" stroke="#1a1a1a" stroke-width="0.8"/>
<line x1="349.8" y1="982.5" x2="433" y2="982.5" stroke="#1a1a1a" stroke-width="0.8"/>
<polygon points="390.3,982.5 370.8,985.65 370.8,979.35" fill="#000"/>
<polygon points="392.7,982.5 412.2,979.35 412.2,985.65" fill="#000"/>
<line x1="392.7" y1="992.5" x2="590.5" y2="992.5" stroke="#1a1a1a" stroke-width="0.8"/>
<polygon points="392.7,992.5 412.2,989.35 412.2,995.65" fill="#000"/>
<polygon points="590.5,992.5 571,995.65 571,989.35" fill="#000"/>
<text font-family='"Liberation Sans", sans-serif' font-size="26.7" fill="#000" textLength="69.51" lengthAdjust="spacingAndGlyphs" x="318.35" y="975.4">(0.50)</text>
<text font-family='"Liberation Sans", sans-serif' font-size="30.01" fill="#000" y="1030"><tspan x="362.76" textLength="58.32" lengthAdjust="spacingAndGlyphs">3.81</tspan><tspan x="420.57" textLength="13.94" lengthAdjust="spacingAndGlyphs">x</tspan><tspan x="435.25" textLength="96.31" lengthAdjust="spacingAndGlyphs">(P/2-1)</tspan><tspan x="534.64" textLength="17.42" lengthAdjust="spacingAndGlyphs">+</tspan><tspan x="554.92" textLength="56.52" lengthAdjust="spacingAndGlyphs">6.20</tspan></text>
<text font-family='"Liberation Sans", "Noto Sans CJK SC", sans-serif' font-size="21.4" fill="#000" textLength="133.2" lengthAdjust="spacingAndGlyphs" x="423.9" y="1059.3">面板开孔图示</text>
<line x1="413.2" y1="1069.5" x2="571.1" y2="1069.5" stroke="#555" stroke-width="1"/>
<line x1="413.2" y1="1072.5" x2="571.1" y2="1072.5" stroke="#555" stroke-width="1"/>
</g>
</svg>
</body>
</html>
